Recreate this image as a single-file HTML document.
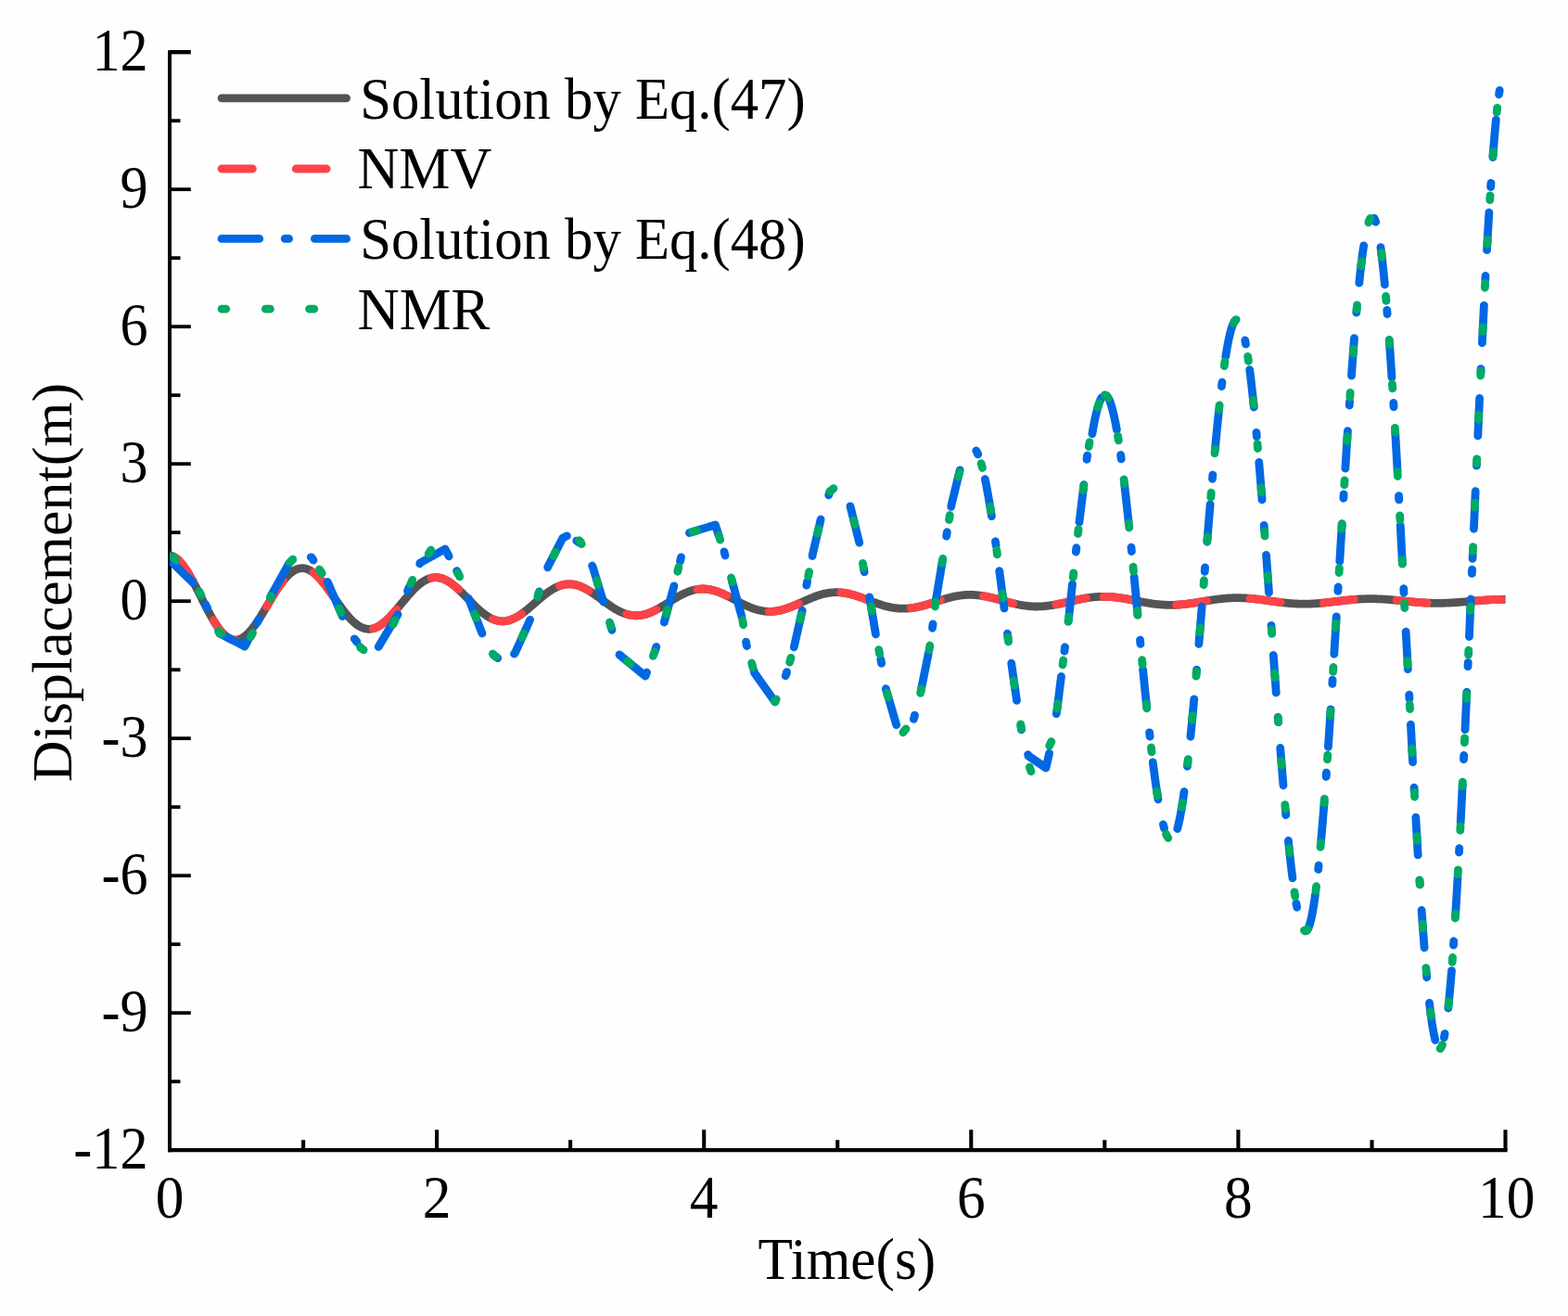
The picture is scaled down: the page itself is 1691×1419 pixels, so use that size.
<!DOCTYPE html>
<html><head><meta charset="utf-8"><style>html,body{margin:0;padding:0;background:#fefefe;overflow:hidden}svg{display:block}</style></head>
<body>
<svg width="1691" height="1419" viewBox="0 0 1691 1419">
<rect width="100%" height="100%" fill="#fefefe"/>
<g stroke="#000" fill="none" stroke-linecap="butt">
<path d="M183.0,54.2 V1242.3" stroke-width="3.9"/>
<path d="M181.1,1240.2 H1625.6" stroke-width="4.2"/>
<path d="M183.0,56.2 h22.8" stroke-width="4.4"/>
<path d="M183.0,1166.2 h11.5" stroke-width="3.8"/>
<path d="M183.0,1092.2 h22.8" stroke-width="3.8"/>
<path d="M183.0,1018.2 h11.5" stroke-width="3.8"/>
<path d="M183.0,944.2 h22.8" stroke-width="3.8"/>
<path d="M183.0,870.2 h11.5" stroke-width="3.8"/>
<path d="M183.0,796.2 h22.8" stroke-width="3.8"/>
<path d="M183.0,722.2 h11.5" stroke-width="3.8"/>
<path d="M183.0,648.2 h22.8" stroke-width="3.8"/>
<path d="M183.0,574.2 h11.5" stroke-width="3.8"/>
<path d="M183.0,500.2 h22.8" stroke-width="3.8"/>
<path d="M183.0,426.2 h11.5" stroke-width="3.8"/>
<path d="M183.0,352.2 h22.8" stroke-width="3.8"/>
<path d="M183.0,278.2 h11.5" stroke-width="3.8"/>
<path d="M183.0,204.2 h22.8" stroke-width="3.8"/>
<path d="M183.0,130.2 h11.5" stroke-width="3.8"/>
<path d="M327.1,1240.2 v-11" stroke-width="4.1"/>
<path d="M471.1,1240.2 v-22" stroke-width="4.1"/>
<path d="M615.1,1240.2 v-11" stroke-width="4.1"/>
<path d="M759.2,1240.2 v-22" stroke-width="4.1"/>
<path d="M903.2,1240.2 v-11" stroke-width="4.1"/>
<path d="M1047.3,1240.2 v-22" stroke-width="4.1"/>
<path d="M1191.3,1240.2 v-11" stroke-width="4.1"/>
<path d="M1335.4,1240.2 v-22" stroke-width="4.1"/>
<path d="M1479.5,1240.2 v-11" stroke-width="4.1"/>
<path d="M1623.5,1240.2 v-22" stroke-width="4.1"/>
</g>
<defs><clipPath id="pc"><rect x="183" y="40" width="1440.5" height="1205"/></clipPath></defs>
<g fill="none" stroke-linecap="round" stroke-linejoin="round" stroke-width="8.8" clip-path="url(#pc)">
<path d="M183.0,598.9 L183.7,599.0 L184.4,599.1 L185.2,599.3 L185.9,599.6 L186.6,599.9 L187.3,600.2 L188.0,600.6 L188.8,601.0 L189.5,601.5 L190.2,602.0 L190.9,602.6 L191.6,603.2 L192.4,603.9 L193.1,604.6 L193.8,605.3 L194.5,606.1 L195.2,606.9 L196.0,607.8 L196.7,608.7 L197.4,609.6 L198.1,610.5 L198.8,611.5 L199.6,612.6 L200.3,613.6 L201.0,614.7 L201.7,615.8 L202.4,617.0 L203.2,618.2 L203.9,619.4 L204.6,620.6 L205.3,621.9 L206.0,623.1 L206.8,624.4 L207.5,625.7 L208.2,627.1 L208.9,628.4 L209.6,629.8 L210.4,631.1 L211.1,632.5 L211.8,633.9 L212.5,635.3 L213.3,636.8 L214.0,638.2 L214.7,639.6 L215.4,641.0 L216.1,642.5 L216.9,643.9 L217.6,645.3 L218.3,646.8 L219.0,648.2 L219.7,649.6 L220.5,651.0 L221.2,652.5 L221.9,653.9 L222.6,655.2 L223.3,656.6 L224.1,658.0 L224.8,659.3 L225.5,660.7 L226.2,662.0 L226.9,663.3 L227.7,664.6 L228.4,665.9 L229.1,667.1 L229.8,668.3 L230.5,669.5 L231.3,670.7 L232.0,671.8 L232.7,672.9 L233.4,674.0 L234.1,675.1 L234.9,676.1 L235.6,677.1 L236.3,678.1 L237.0,679.0 L237.7,679.9 L238.5,680.8 L239.2,681.6 L239.9,682.4 L240.6,683.2 L241.3,683.9 L242.1,684.6 L242.8,685.2 L243.5,685.8 L244.2,686.4 L244.9,686.9 L245.7,687.4 L246.4,687.9 L247.1,688.3 L247.8,688.6 L248.5,689.0 L249.3,689.3 L250.0,689.5 L250.7,689.7 L251.4,689.9 L252.1,690.0 L252.9,690.1 L253.6,690.1 L254.3,690.1 L255.0,690.0 L255.7,689.9 L256.5,689.8 L257.2,689.6 L257.9,689.4 L258.6,689.2 L259.3,688.9 L260.1,688.6 L260.8,688.2 L261.5,687.8 L262.2,687.3 L262.9,686.8 L263.7,686.3 L264.4,685.8 L265.1,685.2 L265.8,684.6 L266.5,683.9 L267.3,683.2 L268.0,682.5 L268.7,681.7 L269.4,680.9 L270.2,680.1 L270.9,679.3 L271.6,678.4 L272.3,677.5 L273.0,676.6 L273.8,675.6 L274.5,674.7 L275.2,673.7 L275.9,672.6 L276.6,671.6 L277.4,670.5 L278.1,669.5 L278.8,668.4 L279.5,667.3 L280.2,666.1 L281.0,665.0 L281.7,663.8 L282.4,662.7 L283.1,661.5 L283.8,660.3 L284.6,659.1 L285.3,657.9 L286.0,656.7 L286.7,655.5 L287.4,654.3 L288.2,653.1 L288.9,651.8 L289.6,650.6 L290.3,649.4 L291.0,648.2 L291.8,647.0 L292.5,645.8 L293.2,644.6 L293.9,643.4 L294.6,642.2 L295.4,641.1 L296.1,639.9 L296.8,638.7 L297.5,637.6 L298.2,636.5 L299.0,635.4 L299.7,634.3 L300.4,633.2 L301.1,632.2 L301.8,631.1 L302.6,630.1 L303.3,629.1 L304.0,628.2 L304.7,627.2 L305.4,626.3 L306.2,625.4 L306.9,624.5 L307.6,623.7 L308.3,622.9 L309.0,622.1 L309.8,621.3 L310.5,620.6 L311.2,619.9 L311.9,619.2 L312.6,618.5 L313.4,617.9 L314.1,617.4 L314.8,616.8 L315.5,616.3 L316.2,615.8 L317.0,615.4 L317.7,614.9 L318.4,614.6 L319.1,614.2 L319.8,613.9 L320.6,613.6 L321.3,613.4 L322.0,613.2 L322.7,613.0 L323.4,612.9 L324.2,612.8 L324.9,612.7 L325.6,612.7 L326.3,612.7 L327.1,612.7 L327.8,612.8 L328.5,612.9 L329.2,613.1 L329.9,613.2 L330.7,613.5 L331.4,613.7 L332.1,614.0 L332.8,614.3 L333.5,614.6 L334.3,615.0 L335.0,615.4 L335.7,615.9 L336.4,616.3 L337.1,616.8 L337.9,617.4 L338.6,617.9 L339.3,618.5 L340.0,619.1 L340.7,619.8 L341.5,620.4 L342.2,621.1 L342.9,621.8 L343.6,622.6 L344.3,623.3 L345.1,624.1 L345.8,624.9 L346.5,625.8 L347.2,626.6 L347.9,627.5 L348.7,628.4 L349.4,629.3 L350.1,630.2 L350.8,631.1 L351.5,632.0 L352.3,633.0 L353.0,634.0 L353.7,634.9 L354.4,635.9 L355.1,636.9 L355.9,637.9 L356.6,639.0 L357.3,640.0 L358.0,641.0 L358.7,642.0 L359.5,643.0 L360.2,644.1 L360.9,645.1 L361.6,646.1 L362.3,647.2 L363.1,648.2 L363.8,649.2 L364.5,650.2 L365.2,651.3 L365.9,652.3 L366.7,653.3 L367.4,654.3 L368.1,655.2 L368.8,656.2 L369.5,657.2 L370.3,658.1 L371.0,659.1 L371.7,660.0 L372.4,660.9 L373.1,661.8 L373.9,662.7 L374.6,663.5 L375.3,664.4 L376.0,665.2 L376.7,666.0 L377.5,666.8 L378.2,667.5 L378.9,668.3 L379.6,669.0 L380.3,669.7 L381.1,670.4 L381.8,671.0 L382.5,671.6 L383.2,672.2 L383.9,672.8 L384.7,673.3 L385.4,673.9 L386.1,674.4 L386.8,674.8 L387.6,675.3 L388.3,675.7 L389.0,676.0 L389.7,676.4 L390.4,676.7 L391.2,677.0 L391.9,677.3 L392.6,677.5 L393.3,677.7 L394.0,677.9 L394.8,678.0 L395.5,678.1 L396.2,678.2 L396.9,678.3 L397.6,678.3 L398.4,678.3 L399.1,678.3 L399.8,678.2 L400.5,678.1 L401.2,678.0 L402.0,677.8 L402.7,677.7 L403.4,677.4 L404.1,677.2 L404.8,676.9 L405.6,676.7 L406.3,676.3 L407.0,676.0 L407.7,675.6 L408.4,675.2 L409.2,674.8 L409.9,674.3 L410.6,673.9 L411.3,673.4 L412.0,672.8 L412.8,672.3 L413.5,671.7 L414.2,671.2 L414.9,670.5 L415.6,669.9 L416.4,669.3 L417.1,668.6 L417.8,667.9 L418.5,667.2 L419.2,666.5 L420.0,665.8 L420.7,665.0 L421.4,664.3 L422.1,663.5 L422.8,662.7 L423.6,661.9 L424.3,661.1 L425.0,660.3 L425.7,659.4 L426.4,658.6 L427.2,657.8 L427.9,656.9 L428.6,656.0 L429.3,655.2 L430.0,654.3 L430.8,653.4 L431.5,652.6 L432.2,651.7 L432.9,650.8 L433.6,649.9 L434.4,649.1 L435.1,648.2 L435.8,647.3 L436.5,646.5 L437.2,645.6 L438.0,644.8 L438.7,643.9 L439.4,643.1 L440.1,642.2 L440.8,641.4 L441.6,640.6 L442.3,639.8 L443.0,639.0 L443.7,638.2 L444.5,637.4 L445.2,636.7 L445.9,635.9 L446.6,635.2 L447.3,634.5 L448.1,633.8 L448.8,633.1 L449.5,632.5 L450.2,631.8 L450.9,631.2 L451.7,630.6 L452.4,630.0 L453.1,629.4 L453.8,628.9 L454.5,628.3 L455.3,627.8 L456.0,627.3 L456.7,626.9 L457.4,626.4 L458.1,626.0 L458.9,625.6 L459.6,625.3 L460.3,624.9 L461.0,624.6 L461.7,624.3 L462.5,624.0 L463.2,623.8 L463.9,623.5 L464.6,623.3 L465.3,623.2 L466.1,623.0 L466.8,622.9 L467.5,622.8 L468.2,622.7 L468.9,622.7 L469.7,622.7 L470.4,622.7 L471.1,622.7 L471.8,622.8 L472.5,622.8 L473.3,622.9 L474.0,623.1 L474.7,623.2 L475.4,623.4 L476.1,623.6 L476.9,623.8 L477.6,624.1 L478.3,624.3 L479.0,624.6 L479.7,625.0 L480.5,625.3 L481.2,625.7 L481.9,626.0 L482.6,626.4 L483.3,626.9 L484.1,627.3 L484.8,627.8 L485.5,628.2 L486.2,628.7 L486.9,629.3 L487.7,629.8 L488.4,630.3 L489.1,630.9 L489.8,631.5 L490.5,632.1 L491.3,632.7 L492.0,633.3 L492.7,633.9 L493.4,634.6 L494.1,635.2 L494.9,635.9 L495.6,636.6 L496.3,637.3 L497.0,638.0 L497.7,638.7 L498.5,639.4 L499.2,640.1 L499.9,640.8 L500.6,641.6 L501.4,642.3 L502.1,643.0 L502.8,643.8 L503.5,644.5 L504.2,645.2 L505.0,646.0 L505.7,646.7 L506.4,647.5 L507.1,648.2 L507.8,648.9 L508.6,649.7 L509.3,650.4 L510.0,651.1 L510.7,651.8 L511.4,652.6 L512.2,653.3 L512.9,654.0 L513.6,654.7 L514.3,655.3 L515.0,656.0 L515.8,656.7 L516.5,657.3 L517.2,658.0 L517.9,658.6 L518.6,659.2 L519.4,659.8 L520.1,660.4 L520.8,661.0 L521.5,661.6 L522.2,662.1 L523.0,662.6 L523.7,663.1 L524.4,663.6 L525.1,664.1 L525.8,664.6 L526.6,665.0 L527.3,665.5 L528.0,665.9 L528.7,666.3 L529.4,666.7 L530.2,667.0 L530.9,667.3 L531.6,667.7 L532.3,667.9 L533.0,668.2 L533.8,668.5 L534.5,668.7 L535.2,668.9 L535.9,669.1 L536.6,669.3 L537.4,669.4 L538.1,669.5 L538.8,669.6 L539.5,669.7 L540.2,669.8 L541.0,669.8 L541.7,669.8 L542.4,669.8 L543.1,669.8 L543.8,669.8 L544.6,669.7 L545.3,669.6 L546.0,669.5 L546.7,669.4 L547.4,669.2 L548.2,669.1 L548.9,668.9 L549.6,668.7 L550.3,668.4 L551.0,668.2 L551.8,667.9 L552.5,667.6 L553.2,667.3 L553.9,667.0 L554.6,666.7 L555.4,666.3 L556.1,665.9 L556.8,665.5 L557.5,665.1 L558.3,664.7 L559.0,664.3 L559.7,663.8 L560.4,663.3 L561.1,662.9 L561.9,662.4 L562.6,661.9 L563.3,661.4 L564.0,660.8 L564.7,660.3 L565.5,659.7 L566.2,659.2 L566.9,658.6 L567.6,658.0 L568.3,657.5 L569.1,656.9 L569.8,656.3 L570.5,655.7 L571.2,655.1 L571.9,654.5 L572.7,653.8 L573.4,653.2 L574.1,652.6 L574.8,652.0 L575.5,651.3 L576.3,650.7 L577.0,650.1 L577.7,649.5 L578.4,648.8 L579.1,648.2 L579.9,647.6 L580.6,647.0 L581.3,646.3 L582.0,645.7 L582.7,645.1 L583.5,644.5 L584.2,643.9 L584.9,643.3 L585.6,642.7 L586.3,642.1 L587.1,641.6 L587.8,641.0 L588.5,640.5 L589.2,639.9 L589.9,639.4 L590.7,638.9 L591.4,638.3 L592.1,637.8 L592.8,637.4 L593.5,636.9 L594.3,636.4 L595.0,636.0 L595.7,635.5 L596.4,635.1 L597.1,634.7 L597.9,634.3 L598.6,633.9 L599.3,633.6 L600.0,633.2 L600.7,632.9 L601.5,632.6 L602.2,632.3 L602.9,632.0 L603.6,631.7 L604.3,631.5 L605.1,631.2 L605.8,631.0 L606.5,630.8 L607.2,630.6 L607.9,630.5 L608.7,630.3 L609.4,630.2 L610.1,630.1 L610.8,630.0 L611.5,629.9 L612.3,629.9 L613.0,629.9 L613.7,629.8 L614.4,629.8 L615.1,629.9 L615.9,629.9 L616.6,630.0 L617.3,630.0 L618.0,630.1 L618.8,630.2 L619.5,630.4 L620.2,630.5 L620.9,630.7 L621.6,630.9 L622.4,631.1 L623.1,631.3 L623.8,631.5 L624.5,631.7 L625.2,632.0 L626.0,632.3 L626.7,632.6 L627.4,632.9 L628.1,633.2 L628.8,633.5 L629.6,633.9 L630.3,634.2 L631.0,634.6 L631.7,635.0 L632.4,635.4 L633.2,635.8 L633.9,636.2 L634.6,636.6 L635.3,637.0 L636.0,637.5 L636.8,637.9 L637.5,638.4 L638.2,638.9 L638.9,639.4 L639.6,639.9 L640.4,640.3 L641.1,640.8 L641.8,641.4 L642.5,641.9 L643.2,642.4 L644.0,642.9 L644.7,643.4 L645.4,643.9 L646.1,644.5 L646.8,645.0 L647.6,645.5 L648.3,646.1 L649.0,646.6 L649.7,647.1 L650.4,647.7 L651.2,648.2 L651.9,648.7 L652.6,649.3 L653.3,649.8 L654.0,650.3 L654.8,650.8 L655.5,651.3 L656.2,651.8 L656.9,652.3 L657.6,652.8 L658.4,653.3 L659.1,653.8 L659.8,654.3 L660.5,654.8 L661.2,655.2 L662.0,655.7 L662.7,656.1 L663.4,656.6 L664.1,657.0 L664.8,657.4 L665.6,657.8 L666.3,658.2 L667.0,658.6 L667.7,658.9 L668.4,659.3 L669.2,659.7 L669.9,660.0 L670.6,660.3 L671.3,660.6 L672.0,660.9 L672.8,661.2 L673.5,661.5 L674.2,661.7 L674.9,662.0 L675.7,662.2 L676.4,662.4 L677.1,662.6 L677.8,662.8 L678.5,662.9 L679.3,663.1 L680.0,663.2 L680.7,663.3 L681.4,663.5 L682.1,663.5 L682.9,663.6 L683.6,663.7 L684.3,663.7 L685.0,663.8 L685.7,663.8 L686.5,663.8 L687.2,663.7 L687.9,663.7 L688.6,663.7 L689.3,663.6 L690.1,663.5 L690.8,663.4 L691.5,663.3 L692.2,663.2 L692.9,663.1 L693.7,662.9 L694.4,662.7 L695.1,662.6 L695.8,662.4 L696.5,662.2 L697.3,661.9 L698.0,661.7 L698.7,661.5 L699.4,661.2 L700.1,660.9 L700.9,660.7 L701.6,660.4 L702.3,660.1 L703.0,659.7 L703.7,659.4 L704.5,659.1 L705.2,658.7 L705.9,658.4 L706.6,658.0 L707.3,657.7 L708.1,657.3 L708.8,656.9 L709.5,656.5 L710.2,656.1 L710.9,655.7 L711.7,655.3 L712.4,654.9 L713.1,654.4 L713.8,654.0 L714.5,653.6 L715.3,653.1 L716.0,652.7 L716.7,652.3 L717.4,651.8 L718.1,651.4 L718.9,650.9 L719.6,650.5 L720.3,650.0 L721.0,649.6 L721.7,649.1 L722.5,648.7 L723.2,648.2 L723.9,647.8 L724.6,647.3 L725.3,646.9 L726.1,646.4 L726.8,646.0 L727.5,645.5 L728.2,645.1 L728.9,644.7 L729.7,644.3 L730.4,643.8 L731.1,643.4 L731.8,643.0 L732.6,642.6 L733.3,642.2 L734.0,641.9 L734.7,641.5 L735.4,641.1 L736.2,640.8 L736.9,640.4 L737.6,640.1 L738.3,639.7 L739.0,639.4 L739.8,639.1 L740.5,638.8 L741.2,638.5 L741.9,638.2 L742.6,637.9 L743.4,637.7 L744.1,637.4 L744.8,637.2 L745.5,637.0 L746.2,636.7 L747.0,636.5 L747.7,636.3 L748.4,636.2 L749.1,636.0 L749.8,635.8 L750.6,635.7 L751.3,635.6 L752.0,635.5 L752.7,635.4 L753.4,635.3 L754.2,635.2 L754.9,635.1 L755.6,635.1 L756.3,635.0 L757.0,635.0 L757.8,635.0 L758.5,635.0 L759.2,635.0 L759.9,635.0 L760.6,635.1 L761.4,635.1 L762.1,635.2 L762.8,635.3 L763.5,635.4 L764.2,635.5 L765.0,635.6 L765.7,635.7 L766.4,635.9 L767.1,636.0 L767.8,636.2 L768.6,636.4 L769.3,636.5 L770.0,636.7 L770.7,637.0 L771.4,637.2 L772.2,637.4 L772.9,637.6 L773.6,637.9 L774.3,638.1 L775.0,638.4 L775.8,638.7 L776.5,639.0 L777.2,639.3 L777.9,639.6 L778.6,639.9 L779.4,640.2 L780.1,640.5 L780.8,640.8 L781.5,641.2 L782.2,641.5 L783.0,641.8 L783.7,642.2 L784.4,642.6 L785.1,642.9 L785.8,643.3 L786.6,643.6 L787.3,644.0 L788.0,644.4 L788.7,644.8 L789.5,645.1 L790.2,645.5 L790.9,645.9 L791.6,646.3 L792.3,646.7 L793.1,647.1 L793.8,647.4 L794.5,647.8 L795.2,648.2 L795.9,648.6 L796.7,649.0 L797.4,649.3 L798.1,649.7 L798.8,650.1 L799.5,650.5 L800.3,650.8 L801.0,651.2 L801.7,651.5 L802.4,651.9 L803.1,652.2 L803.9,652.6 L804.6,652.9 L805.3,653.2 L806.0,653.6 L806.7,653.9 L807.5,654.2 L808.2,654.5 L808.9,654.8 L809.6,655.1 L810.3,655.4 L811.1,655.7 L811.8,655.9 L812.5,656.2 L813.2,656.4 L813.9,656.7 L814.7,656.9 L815.4,657.1 L816.1,657.3 L816.8,657.5 L817.5,657.7 L818.3,657.9 L819.0,658.1 L819.7,658.3 L820.4,658.4 L821.1,658.5 L821.9,658.7 L822.6,658.8 L823.3,658.9 L824.0,659.0 L824.7,659.1 L825.5,659.2 L826.2,659.2 L826.9,659.3 L827.6,659.3 L828.3,659.4 L829.1,659.4 L829.8,659.4 L830.5,659.4 L831.2,659.4 L831.9,659.4 L832.7,659.3 L833.4,659.3 L834.1,659.2 L834.8,659.1 L835.5,659.1 L836.3,659.0 L837.0,658.9 L837.7,658.8 L838.4,658.7 L839.1,658.5 L839.9,658.4 L840.6,658.2 L841.3,658.1 L842.0,657.9 L842.7,657.7 L843.5,657.6 L844.2,657.4 L844.9,657.2 L845.6,656.9 L846.4,656.7 L847.1,656.5 L847.8,656.3 L848.5,656.0 L849.2,655.8 L850.0,655.5 L850.7,655.3 L851.4,655.0 L852.1,654.7 L852.8,654.5 L853.6,654.2 L854.3,653.9 L855.0,653.6 L855.7,653.3 L856.4,653.0 L857.2,652.7 L857.9,652.4 L858.6,652.1 L859.3,651.7 L860.0,651.4 L860.8,651.1 L861.5,650.8 L862.2,650.5 L862.9,650.1 L863.6,649.8 L864.4,649.5 L865.1,649.2 L865.8,648.8 L866.5,648.5 L867.2,648.2 L868.0,647.9 L868.7,647.6 L869.4,647.2 L870.1,646.9 L870.8,646.6 L871.6,646.3 L872.3,646.0 L873.0,645.7 L873.7,645.4 L874.4,645.1 L875.2,644.8 L875.9,644.5 L876.6,644.2 L877.3,643.9 L878.0,643.6 L878.8,643.4 L879.5,643.1 L880.2,642.8 L880.9,642.6 L881.6,642.3 L882.4,642.1 L883.1,641.9 L883.8,641.6 L884.5,641.4 L885.2,641.2 L886.0,641.0 L886.7,640.8 L887.4,640.6 L888.1,640.4 L888.8,640.3 L889.6,640.1 L890.3,640.0 L891.0,639.8 L891.7,639.7 L892.4,639.5 L893.2,639.4 L893.9,639.3 L894.6,639.2 L895.3,639.1 L896.0,639.0 L896.8,639.0 L897.5,638.9 L898.2,638.8 L898.9,638.8 L899.6,638.8 L900.4,638.7 L901.1,638.7 L901.8,638.7 L902.5,638.7 L903.2,638.7 L904.0,638.7 L904.7,638.8 L905.4,638.8 L906.1,638.9 L906.9,638.9 L907.6,639.0 L908.3,639.1 L909.0,639.1 L909.7,639.2 L910.5,639.3 L911.2,639.4 L911.9,639.6 L912.6,639.7 L913.3,639.8 L914.1,640.0 L914.8,640.1 L915.5,640.3 L916.2,640.4 L916.9,640.6 L917.7,640.8 L918.4,641.0 L919.1,641.2 L919.8,641.4 L920.5,641.6 L921.3,641.8 L922.0,642.0 L922.7,642.2 L923.4,642.4 L924.1,642.7 L924.9,642.9 L925.6,643.1 L926.3,643.4 L927.0,643.6 L927.7,643.9 L928.5,644.1 L929.2,644.4 L929.9,644.7 L930.6,644.9 L931.3,645.2 L932.1,645.5 L932.8,645.7 L933.5,646.0 L934.2,646.3 L934.9,646.5 L935.7,646.8 L936.4,647.1 L937.1,647.4 L937.8,647.7 L938.5,647.9 L939.3,648.2 L940.0,648.5 L940.7,648.7 L941.4,649.0 L942.1,649.3 L942.9,649.6 L943.6,649.8 L944.3,650.1 L945.0,650.3 L945.7,650.6 L946.5,650.9 L947.2,651.1 L947.9,651.3 L948.6,651.6 L949.3,651.8 L950.1,652.1 L950.8,652.3 L951.5,652.5 L952.2,652.7 L952.9,653.0 L953.7,653.2 L954.4,653.4 L955.1,653.6 L955.8,653.8 L956.5,653.9 L957.3,654.1 L958.0,654.3 L958.7,654.5 L959.4,654.6 L960.1,654.8 L960.9,654.9 L961.6,655.1 L962.3,655.2 L963.0,655.3 L963.8,655.4 L964.5,655.5 L965.2,655.6 L965.9,655.7 L966.6,655.8 L967.4,655.9 L968.1,656.0 L968.8,656.0 L969.5,656.1 L970.2,656.1 L971.0,656.2 L971.7,656.2 L972.4,656.2 L973.1,656.2 L973.8,656.2 L974.6,656.2 L975.3,656.2 L976.0,656.2 L976.7,656.2 L977.4,656.2 L978.2,656.1 L978.9,656.1 L979.6,656.0 L980.3,655.9 L981.0,655.9 L981.8,655.8 L982.5,655.7 L983.2,655.6 L983.9,655.5 L984.6,655.4 L985.4,655.3 L986.1,655.2 L986.8,655.1 L987.5,654.9 L988.2,654.8 L989.0,654.6 L989.7,654.5 L990.4,654.3 L991.1,654.2 L991.8,654.0 L992.6,653.8 L993.3,653.7 L994.0,653.5 L994.7,653.3 L995.4,653.1 L996.2,652.9 L996.9,652.7 L997.6,652.5 L998.3,652.3 L999.0,652.1 L999.8,651.9 L1000.5,651.6 L1001.2,651.4 L1001.9,651.2 L1002.6,651.0 L1003.4,650.8 L1004.1,650.5 L1004.8,650.3 L1005.5,650.1 L1006.2,649.8 L1007.0,649.6 L1007.7,649.4 L1008.4,649.1 L1009.1,648.9 L1009.8,648.7 L1010.6,648.4 L1011.3,648.2 L1012.0,648.0 L1012.7,647.7 L1013.4,647.5 L1014.2,647.3 L1014.9,647.1 L1015.6,646.8 L1016.3,646.6 L1017.0,646.4 L1017.8,646.2 L1018.5,646.0 L1019.2,645.7 L1019.9,645.5 L1020.7,645.3 L1021.4,645.1 L1022.1,644.9 L1022.8,644.7 L1023.5,644.5 L1024.3,644.4 L1025.0,644.2 L1025.7,644.0 L1026.4,643.8 L1027.1,643.7 L1027.9,643.5 L1028.6,643.3 L1029.3,643.2 L1030.0,643.0 L1030.7,642.9 L1031.5,642.8 L1032.2,642.6 L1032.9,642.5 L1033.6,642.4 L1034.3,642.3 L1035.1,642.2 L1035.8,642.1 L1036.5,642.0 L1037.2,641.9 L1037.9,641.8 L1038.7,641.7 L1039.4,641.7 L1040.1,641.6 L1040.8,641.6 L1041.5,641.5 L1042.3,641.5 L1043.0,641.4 L1043.7,641.4 L1044.4,641.4 L1045.1,641.4 L1045.9,641.4 L1046.6,641.4 L1047.3,641.4 L1048.0,641.4 L1048.7,641.4 L1049.5,641.5 L1050.2,641.5 L1050.9,641.5 L1051.6,641.6 L1052.3,641.6 L1053.1,641.7 L1053.8,641.8 L1054.5,641.8 L1055.2,641.9 L1055.9,642.0 L1056.7,642.1 L1057.4,642.2 L1058.1,642.3 L1058.8,642.4 L1059.5,642.5 L1060.3,642.6 L1061.0,642.7 L1061.7,642.9 L1062.4,643.0 L1063.1,643.1 L1063.9,643.3 L1064.6,643.4 L1065.3,643.6 L1066.0,643.7 L1066.7,643.9 L1067.5,644.1 L1068.2,644.2 L1068.9,644.4 L1069.6,644.6 L1070.3,644.7 L1071.1,644.9 L1071.8,645.1 L1072.5,645.3 L1073.2,645.5 L1073.9,645.7 L1074.7,645.8 L1075.4,646.0 L1076.1,646.2 L1076.8,646.4 L1077.6,646.6 L1078.3,646.8 L1079.0,647.0 L1079.7,647.2 L1080.4,647.4 L1081.2,647.6 L1081.9,647.8 L1082.6,648.0 L1083.3,648.2 L1084.0,648.4 L1084.8,648.6 L1085.5,648.8 L1086.2,649.0 L1086.9,649.2 L1087.6,649.4 L1088.4,649.6 L1089.1,649.7 L1089.8,649.9 L1090.5,650.1 L1091.2,650.3 L1092.0,650.5 L1092.7,650.6 L1093.4,650.8 L1094.1,651.0 L1094.8,651.1 L1095.6,651.3 L1096.3,651.5 L1097.0,651.6 L1097.7,651.8 L1098.4,651.9 L1099.2,652.1 L1099.9,652.2 L1100.6,652.3 L1101.3,652.5 L1102.0,652.6 L1102.8,652.7 L1103.5,652.8 L1104.2,652.9 L1104.9,653.0 L1105.6,653.1 L1106.4,653.2 L1107.1,653.3 L1107.8,653.4 L1108.5,653.5 L1109.2,653.5 L1110.0,653.6 L1110.7,653.7 L1111.4,653.7 L1112.1,653.8 L1112.8,653.8 L1113.6,653.9 L1114.3,653.9 L1115.0,653.9 L1115.7,654.0 L1116.4,654.0 L1117.2,654.0 L1117.9,654.0 L1118.6,654.0 L1119.3,654.0 L1120.0,654.0 L1120.8,653.9 L1121.5,653.9 L1122.2,653.9 L1122.9,653.9 L1123.6,653.8 L1124.4,653.8 L1125.1,653.7 L1125.8,653.7 L1126.5,653.6 L1127.2,653.5 L1128.0,653.5 L1128.7,653.4 L1129.4,653.3 L1130.1,653.2 L1130.8,653.1 L1131.6,653.0 L1132.3,652.9 L1133.0,652.8 L1133.7,652.7 L1134.5,652.6 L1135.2,652.5 L1135.9,652.4 L1136.6,652.2 L1137.3,652.1 L1138.1,652.0 L1138.8,651.9 L1139.5,651.7 L1140.2,651.6 L1140.9,651.4 L1141.7,651.3 L1142.4,651.1 L1143.1,651.0 L1143.8,650.8 L1144.5,650.7 L1145.3,650.5 L1146.0,650.4 L1146.7,650.2 L1147.4,650.0 L1148.1,649.9 L1148.9,649.7 L1149.6,649.5 L1150.3,649.4 L1151.0,649.2 L1151.7,649.0 L1152.5,648.9 L1153.2,648.7 L1153.9,648.5 L1154.6,648.4 L1155.3,648.2 L1156.1,648.0 L1156.8,647.9 L1157.5,647.7 L1158.2,647.5 L1158.9,647.4 L1159.7,647.2 L1160.4,647.1 L1161.1,646.9 L1161.8,646.7 L1162.5,646.6 L1163.3,646.4 L1164.0,646.3 L1164.7,646.1 L1165.4,646.0 L1166.1,645.8 L1166.9,645.7 L1167.6,645.6 L1168.3,645.4 L1169.0,645.3 L1169.7,645.2 L1170.5,645.1 L1171.2,644.9 L1171.9,644.8 L1172.6,644.7 L1173.3,644.6 L1174.1,644.5 L1174.8,644.4 L1175.5,644.3 L1176.2,644.2 L1176.9,644.1 L1177.7,644.0 L1178.4,643.9 L1179.1,643.9 L1179.8,643.8 L1180.5,643.7 L1181.3,643.7 L1182.0,643.6 L1182.7,643.6 L1183.4,643.5 L1184.1,643.5 L1184.9,643.4 L1185.6,643.4 L1186.3,643.4 L1187.0,643.3 L1187.7,643.3 L1188.5,643.3 L1189.2,643.3 L1189.9,643.3 L1190.6,643.3 L1191.3,643.3 L1192.1,643.3 L1192.8,643.3 L1193.5,643.3 L1194.2,643.4 L1195.0,643.4 L1195.7,643.4 L1196.4,643.5 L1197.1,643.5 L1197.8,643.6 L1198.6,643.6 L1199.3,643.7 L1200.0,643.7 L1200.7,643.8 L1201.4,643.9 L1202.2,643.9 L1202.9,644.0 L1203.6,644.1 L1204.3,644.2 L1205.0,644.3 L1205.8,644.4 L1206.5,644.5 L1207.2,644.6 L1207.9,644.7 L1208.6,644.8 L1209.4,644.9 L1210.1,645.0 L1210.8,645.1 L1211.5,645.2 L1212.2,645.3 L1213.0,645.5 L1213.7,645.6 L1214.4,645.7 L1215.1,645.8 L1215.8,646.0 L1216.6,646.1 L1217.3,646.2 L1218.0,646.4 L1218.7,646.5 L1219.4,646.6 L1220.2,646.8 L1220.9,646.9 L1221.6,647.1 L1222.3,647.2 L1223.0,647.3 L1223.8,647.5 L1224.5,647.6 L1225.2,647.8 L1225.9,647.9 L1226.6,648.1 L1227.4,648.2 L1228.1,648.3 L1228.8,648.5 L1229.5,648.6 L1230.2,648.8 L1231.0,648.9 L1231.7,649.0 L1232.4,649.2 L1233.1,649.3 L1233.8,649.4 L1234.6,649.6 L1235.3,649.7 L1236.0,649.8 L1236.7,650.0 L1237.4,650.1 L1238.2,650.2 L1238.9,650.3 L1239.6,650.4 L1240.3,650.5 L1241.0,650.7 L1241.8,650.8 L1242.5,650.9 L1243.2,651.0 L1243.9,651.1 L1244.6,651.2 L1245.4,651.3 L1246.1,651.3 L1246.8,651.4 L1247.5,651.5 L1248.2,651.6 L1249.0,651.7 L1249.7,651.7 L1250.4,651.8 L1251.1,651.9 L1251.9,651.9 L1252.6,652.0 L1253.3,652.0 L1254.0,652.1 L1254.7,652.1 L1255.5,652.2 L1256.2,652.2 L1256.9,652.2 L1257.6,652.3 L1258.3,652.3 L1259.1,652.3 L1259.8,652.3 L1260.5,652.3 L1261.2,652.4 L1261.9,652.4 L1262.7,652.4 L1263.4,652.4 L1264.1,652.3 L1264.8,652.3 L1265.5,652.3 L1266.3,652.3 L1267.0,652.3 L1267.7,652.2 L1268.4,652.2 L1269.1,652.2 L1269.9,652.1 L1270.6,652.1 L1271.3,652.0 L1272.0,652.0 L1272.7,651.9 L1273.5,651.9 L1274.2,651.8 L1274.9,651.7 L1275.6,651.7 L1276.3,651.6 L1277.1,651.5 L1277.8,651.5 L1278.5,651.4 L1279.2,651.3 L1279.9,651.2 L1280.7,651.1 L1281.4,651.0 L1282.1,650.9 L1282.8,650.8 L1283.5,650.7 L1284.3,650.6 L1285.0,650.5 L1285.7,650.4 L1286.4,650.3 L1287.1,650.2 L1287.9,650.1 L1288.6,650.0 L1289.3,649.9 L1290.0,649.8 L1290.7,649.6 L1291.5,649.5 L1292.2,649.4 L1292.9,649.3 L1293.6,649.2 L1294.3,649.0 L1295.1,648.9 L1295.8,648.8 L1296.5,648.7 L1297.2,648.6 L1297.9,648.4 L1298.7,648.3 L1299.4,648.2 L1300.1,648.1 L1300.8,648.0 L1301.5,647.8 L1302.3,647.7 L1303.0,647.6 L1303.7,647.5 L1304.4,647.4 L1305.1,647.3 L1305.9,647.1 L1306.6,647.0 L1307.3,646.9 L1308.0,646.8 L1308.8,646.7 L1309.5,646.6 L1310.2,646.5 L1310.9,646.4 L1311.6,646.3 L1312.4,646.2 L1313.1,646.1 L1313.8,646.0 L1314.5,645.9 L1315.2,645.8 L1316.0,645.8 L1316.7,645.7 L1317.4,645.6 L1318.1,645.5 L1318.8,645.5 L1319.6,645.4 L1320.3,645.3 L1321.0,645.3 L1321.7,645.2 L1322.4,645.1 L1323.2,645.1 L1323.9,645.0 L1324.6,645.0 L1325.3,644.9 L1326.0,644.9 L1326.8,644.9 L1327.5,644.8 L1328.2,644.8 L1328.9,644.8 L1329.6,644.7 L1330.4,644.7 L1331.1,644.7 L1331.8,644.7 L1332.5,644.7 L1333.2,644.7 L1334.0,644.7 L1334.7,644.7 L1335.4,644.7 L1336.1,644.7 L1336.8,644.7 L1337.6,644.7 L1338.3,644.7 L1339.0,644.8 L1339.7,644.8 L1340.4,644.8 L1341.2,644.8 L1341.9,644.9 L1342.6,644.9 L1343.3,644.9 L1344.0,645.0 L1344.8,645.0 L1345.5,645.1 L1346.2,645.1 L1346.9,645.2 L1347.6,645.3 L1348.4,645.3 L1349.1,645.4 L1349.8,645.4 L1350.5,645.5 L1351.2,645.6 L1352.0,645.7 L1352.7,645.7 L1353.4,645.8 L1354.1,645.9 L1354.8,646.0 L1355.6,646.1 L1356.3,646.1 L1357.0,646.2 L1357.7,646.3 L1358.4,646.4 L1359.2,646.5 L1359.9,646.6 L1360.6,646.7 L1361.3,646.8 L1362.0,646.9 L1362.8,647.0 L1363.5,647.1 L1364.2,647.2 L1364.9,647.3 L1365.7,647.4 L1366.4,647.5 L1367.1,647.6 L1367.8,647.7 L1368.5,647.8 L1369.3,647.9 L1370.0,648.0 L1370.7,648.1 L1371.4,648.2 L1372.1,648.3 L1372.9,648.4 L1373.6,648.5 L1374.3,648.6 L1375.0,648.7 L1375.7,648.8 L1376.5,648.9 L1377.2,649.0 L1377.9,649.1 L1378.6,649.2 L1379.3,649.3 L1380.1,649.4 L1380.8,649.5 L1381.5,649.5 L1382.2,649.6 L1382.9,649.7 L1383.7,649.8 L1384.4,649.9 L1385.1,650.0 L1385.8,650.0 L1386.5,650.1 L1387.3,650.2 L1388.0,650.3 L1388.7,650.3 L1389.4,650.4 L1390.1,650.5 L1390.9,650.5 L1391.6,650.6 L1392.3,650.6 L1393.0,650.7 L1393.7,650.7 L1394.5,650.8 L1395.2,650.8 L1395.9,650.9 L1396.6,650.9 L1397.3,651.0 L1398.1,651.0 L1398.8,651.0 L1399.5,651.1 L1400.2,651.1 L1400.9,651.1 L1401.7,651.1 L1402.4,651.1 L1403.1,651.2 L1403.8,651.2 L1404.5,651.2 L1405.3,651.2 L1406.0,651.2 L1406.7,651.2 L1407.4,651.2 L1408.1,651.2 L1408.9,651.2 L1409.6,651.2 L1410.3,651.1 L1411.0,651.1 L1411.7,651.1 L1412.5,651.1 L1413.2,651.1 L1413.9,651.0 L1414.6,651.0 L1415.3,651.0 L1416.1,650.9 L1416.8,650.9 L1417.5,650.8 L1418.2,650.8 L1418.9,650.7 L1419.7,650.7 L1420.4,650.6 L1421.1,650.6 L1421.8,650.5 L1422.6,650.5 L1423.3,650.4 L1424.0,650.4 L1424.7,650.3 L1425.4,650.2 L1426.2,650.2 L1426.9,650.1 L1427.6,650.0 L1428.3,649.9 L1429.0,649.9 L1429.8,649.8 L1430.5,649.7 L1431.2,649.6 L1431.9,649.6 L1432.6,649.5 L1433.4,649.4 L1434.1,649.3 L1434.8,649.2 L1435.5,649.1 L1436.2,649.1 L1437.0,649.0 L1437.7,648.9 L1438.4,648.8 L1439.1,648.7 L1439.8,648.6 L1440.6,648.5 L1441.3,648.5 L1442.0,648.4 L1442.7,648.3 L1443.4,648.2 L1444.2,648.1 L1444.9,648.0 L1445.6,647.9 L1446.3,647.9 L1447.0,647.8 L1447.8,647.7 L1448.5,647.6 L1449.2,647.5 L1449.9,647.4 L1450.6,647.4 L1451.4,647.3 L1452.1,647.2 L1452.8,647.1 L1453.5,647.1 L1454.2,647.0 L1455.0,646.9 L1455.7,646.8 L1456.4,646.8 L1457.1,646.7 L1457.8,646.6 L1458.6,646.6 L1459.3,646.5 L1460.0,646.4 L1460.7,646.4 L1461.4,646.3 L1462.2,646.3 L1462.9,646.2 L1463.6,646.2 L1464.3,646.1 L1465.0,646.1 L1465.8,646.0 L1466.5,646.0 L1467.2,646.0 L1467.9,645.9 L1468.6,645.9 L1469.4,645.9 L1470.1,645.8 L1470.8,645.8 L1471.5,645.8 L1472.2,645.8 L1473.0,645.7 L1473.7,645.7 L1474.4,645.7 L1475.1,645.7 L1475.8,645.7 L1476.6,645.7 L1477.3,645.7 L1478.0,645.7 L1478.7,645.7 L1479.5,645.7 L1480.2,645.7 L1480.9,645.7 L1481.6,645.7 L1482.3,645.7 L1483.1,645.7 L1483.8,645.7 L1484.5,645.8 L1485.2,645.8 L1485.9,645.8 L1486.7,645.8 L1487.4,645.9 L1488.1,645.9 L1488.8,645.9 L1489.5,646.0 L1490.3,646.0 L1491.0,646.0 L1491.7,646.1 L1492.4,646.1 L1493.1,646.2 L1493.9,646.2 L1494.6,646.3 L1495.3,646.3 L1496.0,646.4 L1496.7,646.4 L1497.5,646.5 L1498.2,646.5 L1498.9,646.6 L1499.6,646.7 L1500.3,646.7 L1501.1,646.8 L1501.8,646.8 L1502.5,646.9 L1503.2,647.0 L1503.9,647.0 L1504.7,647.1 L1505.4,647.2 L1506.1,647.3 L1506.8,647.3 L1507.5,647.4 L1508.3,647.5 L1509.0,647.5 L1509.7,647.6 L1510.4,647.7 L1511.1,647.8 L1511.9,647.8 L1512.6,647.9 L1513.3,648.0 L1514.0,648.1 L1514.7,648.1 L1515.5,648.2 L1516.2,648.3 L1516.9,648.3 L1517.6,648.4 L1518.3,648.5 L1519.1,648.6 L1519.8,648.6 L1520.5,648.7 L1521.2,648.8 L1521.9,648.8 L1522.7,648.9 L1523.4,649.0 L1524.1,649.0 L1524.8,649.1 L1525.5,649.2 L1526.3,649.2 L1527.0,649.3 L1527.7,649.4 L1528.4,649.4 L1529.1,649.5 L1529.9,649.5 L1530.6,649.6 L1531.3,649.6 L1532.0,649.7 L1532.7,649.7 L1533.5,649.8 L1534.2,649.8 L1534.9,649.9 L1535.6,649.9 L1536.3,650.0 L1537.1,650.0 L1537.8,650.0 L1538.5,650.1 L1539.2,650.1 L1540.0,650.1 L1540.7,650.2 L1541.4,650.2 L1542.1,650.2 L1542.8,650.2 L1543.6,650.3 L1544.3,650.3 L1545.0,650.3 L1545.7,650.3 L1546.4,650.3 L1547.2,650.3 L1547.9,650.3 L1548.6,650.3 L1549.3,650.3 L1550.0,650.3 L1550.8,650.3 L1551.5,650.3 L1552.2,650.3 L1552.9,650.3 L1553.6,650.3 L1554.4,650.3 L1555.1,650.3 L1555.8,650.3 L1556.5,650.3 L1557.2,650.3 L1558.0,650.2 L1558.7,650.2 L1559.4,650.2 L1560.1,650.2 L1560.8,650.1 L1561.6,650.1 L1562.3,650.1 L1563.0,650.0 L1563.7,650.0 L1564.4,650.0 L1565.2,649.9 L1565.9,649.9 L1566.6,649.8 L1567.3,649.8 L1568.0,649.7 L1568.8,649.7 L1569.5,649.7 L1570.2,649.6 L1570.9,649.6 L1571.6,649.5 L1572.4,649.5 L1573.1,649.4 L1573.8,649.3 L1574.5,649.3 L1575.2,649.2 L1576.0,649.2 L1576.7,649.1 L1577.4,649.1 L1578.1,649.0 L1578.8,648.9 L1579.6,648.9 L1580.3,648.8 L1581.0,648.8 L1581.7,648.7 L1582.4,648.6 L1583.2,648.6 L1583.9,648.5 L1584.6,648.4 L1585.3,648.4 L1586.0,648.3 L1586.8,648.3 L1587.5,648.2 L1588.2,648.1 L1588.9,648.1 L1589.6,648.0 L1590.4,648.0 L1591.1,647.9 L1591.8,647.8 L1592.5,647.8 L1593.2,647.7 L1594.0,647.7 L1594.7,647.6 L1595.4,647.5 L1596.1,647.5 L1596.9,647.4 L1597.6,647.4 L1598.3,647.3 L1599.0,647.3 L1599.7,647.2 L1600.5,647.2 L1601.2,647.1 L1601.9,647.1 L1602.6,647.0 L1603.3,647.0 L1604.1,646.9 L1604.8,646.9 L1605.5,646.9 L1606.2,646.8 L1606.9,646.8 L1607.7,646.7 L1608.4,646.7 L1609.1,646.7 L1609.8,646.6 L1610.5,646.6 L1611.3,646.6 L1612.0,646.6 L1612.7,646.5 L1613.4,646.5 L1614.1,646.5 L1614.9,646.5 L1615.6,646.5 L1616.3,646.4 L1617.0,646.4 L1617.7,646.4 L1618.5,646.4 L1619.2,646.4 L1619.9,646.4 L1620.6,646.4 L1621.3,646.4 L1622.1,646.4 L1622.8,646.4 L1623.5,646.4" stroke="#545454"/>
<path d="M183.0,598.9 L184.4,599.1 L185.9,599.6 L187.3,600.2 L188.8,601.0 L190.2,602.0 L191.6,603.2 L193.1,604.6 L194.5,606.1 L196.0,607.8 L197.4,609.6 L198.8,611.5 L200.3,613.6 L201.7,615.8 L203.2,618.2 L204.6,620.6 L206.0,623.1 L207.5,625.7 L208.9,628.4 L210.4,631.1 L211.8,633.9 L213.3,636.8 L214.7,639.6 L216.1,642.5 L217.6,645.3 L219.0,648.2 L220.5,651.0 L221.9,653.9 L223.3,656.6 L224.8,659.3 L226.2,662.0 L227.7,664.6 L229.1,667.1 L230.5,669.5 L232.0,671.8 L233.4,674.0 L234.9,676.1 L236.3,678.1 L237.7,679.9 L239.2,681.6 L240.6,683.2 L242.1,684.6 L243.5,685.8 L244.9,686.9 L246.4,687.9 L247.8,688.6 L249.3,689.3 L250.7,689.7 L252.1,690.0 L253.6,690.1 L255.0,690.0 L256.5,689.8 L257.9,689.4 L259.3,688.9 L260.8,688.2 L262.2,687.3 L263.7,686.3 L265.1,685.2 L266.5,683.9 L268.0,682.5 L269.4,680.9 L270.9,679.3 L272.3,677.5" stroke="#fe4245" stroke-dasharray="33.4 46.8" stroke-dashoffset="74.3"/>
<path d="M272.3,677.5 L273.8,675.6 L275.2,673.7 L276.6,671.6 L278.1,669.5 L279.5,667.3 L281.0,665.0 L282.4,662.7 L283.8,660.3 L285.3,657.9 L286.7,655.5 L288.2,653.1 L289.6,650.6 L291.0,648.2 L292.5,645.8 L293.9,643.4 L295.4,641.1 L296.8,638.7 L298.2,636.5 L299.7,634.3 L301.1,632.2 L302.6,630.1 L304.0,628.2 L305.4,626.3 L306.9,624.5 L308.3,622.9 L309.8,621.3 L311.2,619.9 L312.6,618.5 L314.1,617.4 L315.5,616.3 L317.0,615.4 L318.4,614.6 L319.8,613.9 L321.3,613.4 L322.7,613.0 L324.2,612.8" stroke="#fe4245" stroke-dasharray="33.4 46.8" stroke-dashoffset="52.5"/>
<path d="M324.2,612.8 L325.6,612.7 L327.1,612.7 L328.5,612.9 L329.9,613.2 L331.4,613.7 L332.8,614.3 L334.3,615.0 L335.7,615.9 L337.1,616.8 L338.6,617.9 L340.0,619.1 L341.5,620.4 L342.9,621.8 L344.3,623.3 L345.8,624.9 L347.2,626.6 L348.7,628.4 L350.1,630.2 L351.5,632.0 L353.0,634.0 L354.4,635.9 L355.9,637.9 L357.3,640.0 L358.7,642.0 L360.2,644.1 L361.6,646.1 L363.1,648.2 L364.5,650.2 L365.9,652.3 L367.4,654.3 L368.8,656.2 L370.3,658.1 L371.7,660.0 L373.1,661.8 L374.6,663.5 L376.0,665.2 L377.5,666.8 L378.9,668.3 L380.3,669.7" stroke="#fe4245" stroke-dasharray="33.4 46.8" stroke-dashoffset="65.4"/>
<path d="M380.3,669.7 L381.8,671.0 L383.2,672.2 L384.7,673.3 L386.1,674.4 L387.6,675.3 L389.0,676.0 L390.4,676.7 L391.9,677.3 L393.3,677.7 L394.8,678.0 L396.2,678.2 L397.6,678.3 L399.1,678.3 L400.5,678.1 L402.0,677.8 L403.4,677.4 L404.8,676.9 L406.3,676.3 L407.7,675.6 L409.2,674.8 L410.6,673.9 L412.0,672.8 L413.5,671.7 L414.9,670.5 L416.4,669.3 L417.8,667.9 L419.2,666.5 L420.7,665.0 L422.1,663.5 L423.6,661.9 L425.0,660.3 L426.4,658.6 L427.9,656.9 L429.3,655.2 L430.8,653.4 L432.2,651.7 L433.6,649.9 L435.1,648.2 L436.5,646.5 L438.0,644.8 L439.4,643.1 L440.8,641.4 L442.3,639.8 L443.7,638.2 L445.2,636.7 L446.6,635.2 L448.1,633.8" stroke="#fe4245" stroke-dasharray="33.4 46.8" stroke-dashoffset="55.8"/>
<path d="M448.1,633.8 L449.5,632.5 L450.9,631.2 L452.4,630.0 L453.8,628.9 L455.3,627.8 L456.7,626.9 L458.1,626.0 L459.6,625.3 L461.0,624.6 L462.5,624.0 L463.9,623.5 L465.3,623.2 L466.8,622.9 L468.2,622.7 L469.7,622.7 L471.1,622.7 L472.5,622.8 L474.0,623.1 L475.4,623.4 L476.9,623.8 L478.3,624.3 L479.7,625.0 L481.2,625.7 L482.6,626.4 L484.1,627.3 L485.5,628.2 L486.9,629.3 L488.4,630.3 L489.8,631.5 L491.3,632.7 L492.7,633.9 L494.1,635.2 L495.6,636.6 L497.0,638.0 L498.5,639.4 L499.9,640.8 L501.4,642.3 L502.8,643.8 L504.2,645.2 L505.7,646.7 L507.1,648.2 L508.6,649.7 L510.0,651.1 L511.4,652.6 L512.9,654.0 L514.3,655.3" stroke="#fe4245" stroke-dasharray="33.4 46.8" stroke-dashoffset="59.9"/>
<path d="M514.3,655.3 L515.8,656.7 L517.2,658.0 L518.6,659.2 L520.1,660.4 L521.5,661.6 L523.0,662.6 L524.4,663.6 L525.8,664.6 L527.3,665.5 L528.7,666.3 L530.2,667.0 L531.6,667.7 L533.0,668.2 L534.5,668.7 L535.9,669.1 L537.4,669.4 L538.8,669.6 L540.2,669.8 L541.7,669.8 L543.1,669.8 L544.6,669.7 L546.0,669.5 L547.4,669.2 L548.9,668.9 L550.3,668.4 L551.8,667.9 L553.2,667.3 L554.6,666.7 L556.1,665.9 L557.5,665.1 L559.0,664.3 L560.4,663.3 L561.9,662.4 L563.3,661.4 L564.7,660.3 L566.2,659.2 L567.6,658.0 L569.1,656.9 L570.5,655.7 L571.9,654.5 L573.4,653.2 L574.8,652.0 L576.3,650.7 L577.7,649.5 L579.1,648.2 L580.6,647.0 L582.0,645.7 L583.5,644.5" stroke="#fe4245" stroke-dasharray="33.4 46.8" stroke-dashoffset="59.1"/>
<path d="M583.5,644.5 L584.9,643.3 L586.3,642.1 L587.8,641.0 L589.2,639.9 L590.7,638.9 L592.1,637.8 L593.5,636.9 L595.0,636.0 L596.4,635.1 L597.9,634.3 L599.3,633.6 L600.7,632.9 L602.2,632.3 L603.6,631.7 L605.1,631.2 L606.5,630.8 L607.9,630.5 L609.4,630.2 L610.8,630.0 L612.3,629.9 L613.7,629.8 L615.1,629.9 L616.6,630.0 L618.0,630.1 L619.5,630.4 L620.9,630.7 L622.4,631.1 L623.8,631.5 L625.2,632.0 L626.7,632.6 L628.1,633.2 L629.6,633.9 L631.0,634.6 L632.4,635.4 L633.9,636.2 L635.3,637.0 L636.8,637.9 L638.2,638.9 L639.6,639.9 L641.1,640.8 L642.5,641.9 L644.0,642.9 L645.4,643.9 L646.8,645.0 L648.3,646.1 L649.7,647.1 L651.2,648.2 L652.6,649.3 L654.0,650.3 L655.5,651.3" stroke="#fe4245" stroke-dasharray="33.4 46.8" stroke-dashoffset="56.3"/>
<path d="M655.5,651.3 L656.9,652.3 L658.4,653.3 L659.8,654.3 L661.2,655.2 L662.7,656.1 L664.1,657.0 L665.6,657.8 L667.0,658.6 L668.4,659.3 L669.9,660.0 L671.3,660.6 L672.8,661.2 L674.2,661.7 L675.7,662.2 L677.1,662.6 L678.5,662.9 L680.0,663.2 L681.4,663.5 L682.9,663.6 L684.3,663.7 L685.7,663.8 L687.2,663.7 L688.6,663.7 L690.1,663.5 L691.5,663.3 L692.9,663.1 L694.4,662.7 L695.8,662.4 L697.3,661.9 L698.7,661.5 L700.1,660.9 L701.6,660.4 L703.0,659.7 L704.5,659.1 L705.9,658.4 L707.3,657.7 L708.8,656.9 L710.2,656.1 L711.7,655.3 L713.1,654.4 L714.5,653.6 L716.0,652.7 L717.4,651.8 L718.9,650.9 L720.3,650.0 L721.7,649.1 L723.2,648.2 L724.6,647.3 L726.1,646.4 L727.5,645.5 L728.9,644.7 L730.4,643.8" stroke="#fe4245" stroke-dasharray="33.4 46.8" stroke-dashoffset="57.1"/>
<path d="M730.4,643.8 L731.8,643.0 L733.3,642.2 L734.7,641.5 L736.2,640.8 L737.6,640.1 L739.0,639.4 L740.5,638.8 L741.9,638.2 L743.4,637.7 L744.8,637.2 L746.2,636.7 L747.7,636.3 L749.1,636.0 L750.6,635.7 L752.0,635.5 L753.4,635.3 L754.9,635.1 L756.3,635.0 L757.8,635.0 L759.2,635.0 L760.6,635.1 L762.1,635.2 L763.5,635.4 L765.0,635.6 L766.4,635.9 L767.8,636.2 L769.3,636.5 L770.7,637.0 L772.2,637.4 L773.6,637.9 L775.0,638.4 L776.5,639.0 L777.9,639.6 L779.4,640.2 L780.8,640.8 L782.2,641.5 L783.7,642.2 L785.1,642.9 L786.6,643.6 L788.0,644.4 L789.5,645.1 L790.9,645.9 L792.3,646.7 L793.8,647.4 L795.2,648.2 L796.7,649.0 L798.1,649.7 L799.5,650.5 L801.0,651.2 L802.4,651.9 L803.9,652.6 L805.3,653.2 L806.7,653.9 L808.2,654.5" stroke="#fe4245" stroke-dasharray="33.4 46.8" stroke-dashoffset="57.0"/>
<path d="M808.2,654.5 L809.6,655.1 L811.1,655.7 L812.5,656.2 L813.9,656.7 L815.4,657.1 L816.8,657.5 L818.3,657.9 L819.7,658.3 L821.1,658.5 L822.6,658.8 L824.0,659.0 L825.5,659.2 L826.9,659.3 L828.3,659.4 L829.8,659.4 L831.2,659.4 L832.7,659.3 L834.1,659.2 L835.5,659.1 L837.0,658.9 L838.4,658.7 L839.9,658.4 L841.3,658.1 L842.7,657.7 L844.2,657.4 L845.6,656.9 L847.1,656.5 L848.5,656.0 L850.0,655.5 L851.4,655.0 L852.8,654.5 L854.3,653.9 L855.7,653.3 L857.2,652.7 L858.6,652.1 L860.0,651.4 L861.5,650.8 L862.9,650.1 L864.4,649.5 L865.8,648.8 L867.2,648.2 L868.7,647.6 L870.1,646.9 L871.6,646.3 L873.0,645.7 L874.4,645.1 L875.9,644.5 L877.3,643.9 L878.8,643.4 L880.2,642.8 L881.6,642.3 L883.1,641.9 L884.5,641.4" stroke="#fe4245" stroke-dasharray="33.4 46.8" stroke-dashoffset="58.4"/>
<path d="M884.5,641.4 L886.0,641.0 L887.4,640.6 L888.8,640.3 L890.3,640.0 L891.7,639.7 L893.2,639.4 L894.6,639.2 L896.0,639.0 L897.5,638.9 L898.9,638.8 L900.4,638.7 L901.8,638.7 L903.2,638.7 L904.7,638.8 L906.1,638.9 L907.6,639.0 L909.0,639.1 L910.5,639.3 L911.9,639.6 L913.3,639.8 L914.8,640.1 L916.2,640.4 L917.7,640.8 L919.1,641.2 L920.5,641.6 L922.0,642.0 L923.4,642.4 L924.9,642.9 L926.3,643.4 L927.7,643.9 L929.2,644.4 L930.6,644.9 L932.1,645.5 L933.5,646.0 L934.9,646.5 L936.4,647.1 L937.8,647.7 L939.3,648.2 L940.7,648.7 L942.1,649.3 L943.6,649.8 L944.0,650.0" stroke="#fe4245" stroke-dasharray="33.4 46.8" stroke-dashoffset="57.7"/>
<path d="M944.0,650.0 L945.0,650.3 L946.5,650.9 L947.9,651.3 L949.3,651.8 L950.8,652.3 L952.2,652.7 L953.7,653.2 L955.1,653.6 L956.5,653.9 L958.0,654.3 L959.4,654.6 L960.9,654.9 L962.3,655.2 L963.8,655.4 L965.2,655.6 L966.6,655.8 L968.1,656.0 L969.5,656.1 L971.0,656.2 L972.4,656.2 L973.8,656.2 L975.3,656.2 L976.7,656.2 L978.2,656.1 L979.6,656.0 L981.0,655.9 L982.5,655.7 L983.9,655.5 L985.4,655.3 L986.8,655.1 L988.2,654.8 L989.7,654.5 L991.1,654.2 L992.6,653.8 L994.0,653.5 L995.4,653.1 L996.9,652.7 L998.3,652.3 L999.8,651.9 L1001.2,651.4 L1002.6,651.0 L1004.1,650.5 L1005.5,650.1 L1007.0,649.6 L1008.4,649.1 L1009.8,648.7 L1011.3,648.2 L1012.7,647.7 L1014.2,647.3 L1015.6,646.8 L1017.0,646.4 L1018.5,646.0 L1019.9,645.5 L1021.4,645.1 L1022.8,644.7 L1024.3,644.4 L1025.7,644.0 L1027.1,643.7 L1028.6,643.3 L1030.0,643.0 L1031.5,642.8 L1032.9,642.5 L1034.3,642.3 L1035.8,642.1 L1037.2,641.9 L1038.7,641.7" stroke="#fe4245" stroke-dasharray="33.4 46.8" stroke-dashoffset="41.1"/>
<path d="M1038.7,641.7 L1040.1,641.6 L1041.5,641.5 L1043.0,641.4 L1044.4,641.4 L1045.9,641.4 L1047.3,641.4 L1048.7,641.4 L1050.2,641.5 L1051.6,641.6 L1053.1,641.7 L1054.5,641.8 L1055.9,642.0 L1057.4,642.2 L1058.8,642.4 L1060.3,642.6 L1061.7,642.9 L1063.1,643.1 L1064.6,643.4 L1066.0,643.7 L1067.5,644.1 L1068.9,644.4 L1070.3,644.7 L1071.8,645.1 L1073.2,645.5 L1074.7,645.8 L1076.1,646.2 L1077.6,646.6 L1079.0,647.0 L1080.4,647.4 L1081.9,647.8 L1083.3,648.2 L1084.8,648.6 L1086.2,649.0 L1087.6,649.4 L1089.1,649.7 L1090.5,650.1 L1092.0,650.5 L1093.4,650.8 L1094.8,651.1 L1096.3,651.5 L1097.7,651.8 L1099.2,652.1 L1100.6,652.3 L1102.0,652.6 L1103.5,652.8 L1104.9,653.0 L1106.4,653.2 L1107.8,653.4 L1109.2,653.5 L1110.7,653.7 L1112.1,653.8 L1113.6,653.9 L1115.0,653.9" stroke="#fe4245" stroke-dasharray="33.4 46.8" stroke-dashoffset="58.5"/>
<path d="M1115.0,653.9 L1116.4,654.0 L1117.9,654.0 L1119.3,654.0 L1120.8,653.9 L1122.2,653.9 L1123.6,653.8 L1125.1,653.7 L1126.5,653.6 L1128.0,653.5 L1129.4,653.3 L1130.8,653.1 L1132.3,652.9 L1133.7,652.7 L1135.2,652.5 L1136.6,652.2 L1138.1,652.0 L1139.5,651.7 L1140.9,651.4 L1142.4,651.1 L1143.8,650.8 L1145.3,650.5 L1146.7,650.2 L1148.1,649.9 L1149.6,649.5 L1151.0,649.2 L1152.5,648.9 L1153.9,648.5 L1155.3,648.2 L1156.8,647.9 L1158.2,647.5 L1159.7,647.2 L1161.1,646.9 L1162.5,646.6 L1164.0,646.3 L1165.4,646.0 L1166.9,645.7 L1168.3,645.4 L1169.7,645.2 L1171.2,644.9 L1172.6,644.7 L1174.1,644.5 L1175.5,644.3 L1176.9,644.1 L1178.4,643.9 L1179.8,643.8 L1181.3,643.7" stroke="#fe4245" stroke-dasharray="33.4 46.8" stroke-dashoffset="56.4"/>
<path d="M1181.3,643.7 L1182.7,643.6 L1184.1,643.5 L1185.6,643.4 L1187.0,643.3 L1188.5,643.3 L1189.9,643.3 L1191.3,643.3 L1192.8,643.3" stroke="#fe4245" stroke-dasharray="33.4 46.8" stroke-dashoffset="71.5"/>
<path d="M1192.8,643.3 L1194.2,643.4 L1195.7,643.4 L1197.1,643.5 L1198.6,643.6 L1200.0,643.7 L1201.4,643.9 L1202.9,644.0 L1204.3,644.2 L1205.8,644.4 L1207.2,644.6 L1208.6,644.8 L1210.1,645.0 L1211.5,645.2 L1213.0,645.5 L1214.4,645.7 L1215.8,646.0 L1217.3,646.2 L1218.7,646.5 L1220.2,646.8 L1221.6,647.1 L1223.0,647.3 L1224.5,647.6 L1225.9,647.9 L1227.4,648.2 L1228.8,648.5 L1230.2,648.8 L1231.7,649.0 L1233.1,649.3 L1234.6,649.6 L1236.0,649.8 L1237.4,650.1 L1238.9,650.3 L1240.3,650.5 L1241.8,650.8 L1243.2,651.0 L1244.6,651.2 L1246.1,651.3" stroke="#fe4245" stroke-dasharray="33.4 46.8" stroke-dashoffset="0.0"/>
<path d="M1246.1,651.3 L1247.5,651.5 L1249.0,651.7 L1250.4,651.8 L1251.9,651.9 L1253.3,652.0 L1254.7,652.1 L1256.2,652.2 L1257.6,652.3 L1259.1,652.3 L1260.5,652.3 L1261.9,652.4 L1263.4,652.4 L1264.8,652.3 L1266.3,652.3 L1267.7,652.2 L1269.1,652.2 L1270.6,652.1 L1272.0,652.0 L1273.5,651.9 L1274.9,651.7 L1276.3,651.6 L1277.8,651.5 L1279.2,651.3 L1280.7,651.1 L1282.1,650.9 L1283.5,650.7 L1285.0,650.5 L1286.4,650.3 L1287.9,650.1 L1289.3,649.9 L1290.7,649.6 L1292.2,649.4 L1293.6,649.2 L1295.1,648.9 L1296.5,648.7 L1297.9,648.4 L1299.4,648.2 L1300.8,648.0 L1302.3,647.7 L1303.7,647.5 L1305.1,647.3 L1306.6,647.0 L1308.0,646.8 L1309.5,646.6 L1310.9,646.4 L1312.4,646.2 L1313.8,646.0 L1315.2,645.8 L1316.7,645.7 L1318.1,645.5 L1319.6,645.4 L1321.0,645.3 L1322.4,645.1 L1323.9,645.0 L1325.3,644.9" stroke="#fe4245" stroke-dasharray="33.4 46.8" stroke-dashoffset="57.8"/>
<path d="M1325.3,644.9 L1326.8,644.9 L1328.2,644.8 L1329.6,644.7 L1331.1,644.7 L1332.5,644.7 L1334.0,644.7 L1335.4,644.7 L1336.8,644.7 L1338.3,644.7 L1339.7,644.8 L1341.2,644.8 L1342.6,644.9 L1344.0,645.0 L1345.5,645.1 L1346.9,645.2 L1348.4,645.3 L1349.8,645.4 L1351.2,645.6 L1352.7,645.7 L1354.1,645.9 L1355.6,646.1 L1357.0,646.2 L1358.4,646.4 L1359.9,646.6 L1361.3,646.8 L1362.8,647.0 L1364.2,647.2 L1365.7,647.4 L1367.1,647.6 L1368.5,647.8 L1370.0,648.0 L1371.4,648.2 L1372.9,648.4 L1374.3,648.6 L1375.7,648.8 L1377.2,649.0 L1378.6,649.2 L1380.1,649.4 L1381.5,649.5 L1382.9,649.7 L1384.4,649.9 L1385.8,650.0 L1387.3,650.2 L1388.7,650.3 L1390.1,650.5 L1391.6,650.6 L1393.0,650.7 L1394.5,650.8 L1395.9,650.9 L1397.3,651.0 L1398.8,651.0 L1400.2,651.1 L1401.7,651.1 L1403.1,651.2 L1404.5,651.2" stroke="#fe4245" stroke-dasharray="33.4 46.8" stroke-dashoffset="57.5"/>
<path d="M1404.5,651.2 L1406.0,651.2 L1407.4,651.2 L1408.9,651.2 L1410.3,651.1 L1411.7,651.1 L1413.2,651.1 L1414.6,651.0 L1416.1,650.9 L1417.5,650.8 L1418.9,650.7 L1420.4,650.6 L1421.8,650.5 L1423.3,650.4 L1424.7,650.3 L1426.2,650.2 L1427.6,650.0 L1429.0,649.9 L1430.5,649.7 L1431.9,649.6 L1433.4,649.4 L1434.8,649.2 L1436.2,649.1 L1437.7,648.9 L1439.1,648.7 L1440.6,648.5 L1442.0,648.4 L1443.4,648.2 L1444.9,648.0 L1446.3,647.9 L1447.8,647.7 L1449.2,647.5 L1450.6,647.4 L1452.1,647.2 L1453.5,647.1 L1455.0,646.9 L1456.4,646.8 L1457.8,646.6 L1459.3,646.5 L1460.7,646.4 L1462.2,646.3 L1463.6,646.2 L1465.0,646.1 L1466.5,646.0 L1467.9,645.9 L1469.4,645.9 L1470.8,645.8 L1472.2,645.8 L1473.7,645.7 L1475.1,645.7 L1476.6,645.7 L1478.0,645.7 L1479.5,645.7 L1480.9,645.7 L1482.3,645.7 L1483.8,645.7" stroke="#fe4245" stroke-dasharray="33.4 46.8" stroke-dashoffset="57.5"/>
<path d="M1483.8,645.7 L1485.2,645.8 L1486.7,645.8 L1488.1,645.9 L1489.5,646.0 L1491.0,646.0 L1492.4,646.1 L1493.9,646.2 L1495.3,646.3 L1496.7,646.4 L1498.2,646.5 L1499.6,646.7 L1501.1,646.8 L1502.5,646.9 L1503.9,647.0 L1505.4,647.2 L1506.8,647.3 L1508.3,647.5 L1509.7,647.6 L1511.1,647.8 L1512.6,647.9 L1514.0,648.1 L1515.5,648.2 L1516.9,648.3 L1518.3,648.5 L1519.8,648.6 L1521.2,648.8 L1522.7,648.9 L1524.1,649.0 L1525.5,649.2 L1527.0,649.3 L1528.4,649.4 L1529.9,649.5 L1531.3,649.6 L1532.7,649.7 L1534.2,649.8 L1535.6,649.9 L1537.1,650.0 L1538.5,650.1 L1540.0,650.1 L1541.4,650.2 L1542.8,650.2 L1544.3,650.3 L1545.7,650.3 L1547.2,650.3 L1548.6,650.3 L1550.0,650.3 L1551.5,650.3 L1552.9,650.3 L1554.4,650.3 L1555.8,650.3 L1557.2,650.3 L1558.7,650.2 L1560.1,650.2 L1561.6,650.1 L1563.0,650.0" stroke="#fe4245" stroke-dasharray="33.4 46.8" stroke-dashoffset="57.9"/>
<path d="M1563.0,650.0 L1564.4,650.0 L1565.9,649.9 L1567.3,649.8 L1568.8,649.7 L1570.2,649.6 L1571.6,649.5 L1573.1,649.4 L1574.5,649.3 L1576.0,649.2 L1577.4,649.1 L1578.8,648.9 L1580.3,648.8 L1581.7,648.7 L1583.2,648.6 L1584.6,648.4 L1586.0,648.3 L1587.5,648.2 L1588.9,648.1 L1590.4,648.0 L1591.8,647.8 L1593.2,647.7 L1594.7,647.6 L1596.1,647.5 L1597.6,647.4 L1599.0,647.3 L1600.5,647.2 L1601.9,647.1 L1603.3,647.0 L1604.8,646.9 L1606.2,646.8 L1607.7,646.7 L1609.1,646.7 L1610.5,646.6 L1612.0,646.6 L1613.4,646.5 L1614.9,646.5 L1616.3,646.4 L1617.7,646.4 L1619.2,646.4 L1620.6,646.4 L1622.1,646.4 L1623.5,646.4" stroke="#fe4245" stroke-dasharray="33.4 46.8" stroke-dashoffset="57.2"/>
<path d="M183.0,604.0 L212.0,632.0 L237.0,683.0 L264.0,697.0 L270.1,685.2" stroke="#0068e2" stroke-dasharray="40.6 27.5 4.4 27.8" stroke-dashoffset="5.7"/>
<path d="M270.1,685.2 L292.0,643.0 L312.0,607.0 L322.0,597.0" stroke="#0068e2" stroke-dasharray="40.6 27.5 4.4 27.8" stroke-dashoffset="52.7"/>
<path d="M322.0,597.0 L336.0,601.0 L353.0,627.0 L370.0,666.0 L381.6,688.0 L391.0,700.0 L398.7,709.6" stroke="#0068e2" stroke-dasharray="40.6 27.5 4.4 27.8" stroke-dashoffset="54.3"/>
<path d="M398.7,709.6 L399.0,710.0 L406.0,701.0 L430.0,661.0 L440.0,636.0 L453.0,607.0 L480.0,592.0 L486.8,604.8" stroke="#0068e2" stroke-dasharray="40.6 27.5 4.4 27.8" stroke-dashoffset="84.2"/>
<path d="M486.8,604.8 L495.0,620.0 L506.0,647.0 L521.5,687.0 L532.0,706.0 L544.0,715.0" stroke="#0068e2" stroke-dasharray="40.6 27.5 4.4 27.8" stroke-dashoffset="55.9"/>
<path d="M544.0,715.0 L555.5,704.0 L572.7,666.0 L582.3,635.5 L590.8,611.3 L606.8,580.2 L613.0,577.0 L616.1,579.1" stroke="#0068e2" stroke-dasharray="40.6 27.5 4.4 27.8" stroke-dashoffset="85.8"/>
<path d="M616.1,579.1 L626.0,586.0 L639.2,611.2 L651.9,652.8 L659.6,678.0 L668.0,706.0 L696.0,729.0 L699.6,719.7" stroke="#0068e2" stroke-dasharray="40.6 27.5 4.4 27.8" stroke-dashoffset="61.1"/>
<path d="M699.6,719.7 L706.0,703.0 L716.0,672.0 L727.3,630.2 L735.0,599.0 L743.5,574.5 L771.4,566.0 L776.7,582.1" stroke="#0068e2" stroke-dasharray="40.6 27.5 4.4 27.8" stroke-dashoffset="48.8"/>
<path d="M776.7,582.1 L781.0,595.0 L789.0,625.0 L800.5,667.0 L805.0,695.0 L813.7,725.6 L836.0,757.0 L839.1,749.1" stroke="#0068e2" stroke-dasharray="40.6 27.5 4.4 27.8" stroke-dashoffset="54.7"/>
<path d="M839.1,749.1 L848.0,726.5 L856.0,699.0 L865.7,656.0 L870.0,630.0 L876.3,598.0 L886.0,556.4 L895.0,530.0 L902.0,524.0 L906.8,526.7" stroke="#0068e2" stroke-dasharray="40.6 27.5 4.4 27.8" stroke-dashoffset="46.2"/>
<path d="M906.8,526.7 L909.0,528.0 L916.0,542.0 L926.7,585.0 L931.5,613.7 L937.5,642.5 L944.7,685.6 L950.7,715.5 L955.4,743.0 L967.4,783.8 L973.0,791.0" stroke="#0068e2" stroke-dasharray="40.6 27.5 4.4 27.8" stroke-dashoffset="78.1"/>
<path d="M973.0,791.0 L985.4,775.4 L992.6,747.8 L1002.2,699.9 L1005.7,676.0 L1009.3,647.2 L1016.5,604.1 L1021.3,574.2 L1026.1,544.3 L1035.7,504.7 L1045.1,487.3" stroke="#0068e2" stroke-dasharray="40.6 27.5 4.4 27.8" stroke-dashoffset="48.2"/>
<path d="M1045.1,487.3 L1048.0,482.0 L1049.0,482.2 L1050.0,482.7 L1051.0,483.5 L1052.0,484.7 L1053.0,486.3 L1053.9,488.2 L1054.9,490.4 L1055.9,492.9 L1056.9,495.7 L1057.9,498.9 L1058.9,502.4 L1059.9,506.2 L1060.9,510.3 L1061.9,514.6 L1062.9,519.3 L1063.9,524.2 L1064.8,529.4 L1065.8,534.8 L1066.8,540.5 L1067.8,546.4 L1068.8,552.5 L1069.8,558.8 L1070.8,565.3 L1071.8,572.0 L1072.8,578.9 L1073.8,585.9 L1074.8,593.0 L1075.7,600.3 L1076.7,607.7 L1077.7,615.2 L1078.7,622.7 L1079.7,630.4 L1080.7,638.0 L1081.7,645.7 L1082.7,653.5 L1083.7,661.2 L1084.7,668.9 L1085.6,676.6 L1086.6,684.3 L1087.6,691.9 L1088.6,699.4 L1089.6,706.9 L1090.6,714.2 L1091.6,721.4 L1092.6,728.6 L1093.6,735.5 L1094.6,742.3 L1095.6,748.9 L1096.5,755.4 L1097.5,761.6 L1098.5,767.7 L1099.5,773.5 L1100.5,779.1 L1101.5,787.0 L1109.0,815.0 L1128.0,828.0 L1135.0,797.0 L1135.8,791.6" stroke="#0068e2" stroke-dasharray="40.6 27.5 4.4 27.8" stroke-dashoffset="55.6"/>
<path d="M1135.8,791.6 L1140.2,763.6 L1146.9,710.0 L1152.8,664.5 L1158.1,614.9" stroke="#0068e2" stroke-dasharray="40.6 27.5 4.4 27.8" stroke-dashoffset="78.1"/>
<path d="M1158.1,614.9 L1163.5,566.7 L1169.4,518.5 L1172.3,493.0 L1176.1,470.3 L1177.1,472.3 L1178.2,466.1 L1179.2,460.3 L1180.2,454.9 L1181.2,450.0 L1182.3,445.5 L1183.3,441.5 L1184.3,437.9 L1185.3,434.7 L1186.4,432.1 L1187.4,429.9 L1188.4,428.2 L1189.4,427.0 L1190.5,426.2 L1191.5,426.0" stroke="#0068e2" stroke-dasharray="40.6 27.5 4.4 27.8" stroke-dashoffset="48.1"/>
<path d="M1191.5,426.0 L1192.5,426.2 L1193.5,426.9 L1194.5,428.1 L1195.5,429.6 L1196.5,431.7 L1197.5,434.2 L1198.5,437.1 L1199.4,440.5 L1200.4,444.3 L1201.4,448.5 L1202.4,453.1 L1203.4,458.2 L1204.4,463.6 L1205.4,469.4 L1206.4,475.6 L1207.4,482.1 L1208.4,489.1 L1209.4,496.3 L1210.4,503.9 L1211.4,511.7 L1212.4,519.9 L1213.3,528.3 L1214.3,537.0 L1215.3,546.0 L1216.3,555.2 L1217.3,564.6 L1218.3,574.2 L1219.3,583.9 L1220.3,593.8 L1221.3,603.9 L1222.3,614.1 L1223.3,624.3 L1224.3,634.7 L1225.3,645.1 L1226.3,655.5 L1227.2,666.0 L1227.5,668.2" stroke="#0068e2" stroke-dasharray="40.6 27.5 4.4 27.8" stroke-dashoffset="100.3"/>
<path d="M1227.5,668.2 L1228.2,676.5 L1229.2,686.9 L1230.2,697.3 L1231.2,707.7 L1232.2,717.9 L1233.2,728.1 L1234.2,738.2 L1235.2,748.1 L1236.2,757.8 L1237.2,767.4 L1238.2,776.8 L1239.2,786.0 L1240.2,795.0 L1241.2,803.7 L1242.1,812.1 L1243.1,820.3 L1244.1,828.1 L1245.1,835.7 L1246.1,842.9 L1247.1,849.9 L1248.1,856.4 L1249.1,862.6 L1250.1,868.4 L1251.1,873.8 L1252.1,878.9 L1253.1,883.5 L1254.1,887.7 L1255.1,891.5 L1256.0,894.9 L1257.0,897.8 L1258.0,900.3 L1259.0,902.4 L1260.0,903.9 L1261.0,905.1 L1262.0,905.8 L1263.0,906.0" stroke="#0068e2" stroke-dasharray="40.6 27.5 4.4 27.8" stroke-dashoffset="46.2"/>
<path d="M1263.0,906.0 L1264.0,905.7 L1265.0,904.9 L1266.0,903.5 L1267.0,901.6 L1268.0,899.2 L1269.0,896.2 L1270.0,892.6 L1271.0,888.6 L1272.0,884.0 L1273.0,879.0 L1274.0,873.4 L1275.0,867.3 L1276.0,860.8 L1277.0,853.8 L1278.0,846.4 L1279.0,838.5 L1280.0,830.2 L1281.0,821.6 L1282.0,812.5 L1283.0,803.1 L1284.0,793.3 L1285.0,783.2 L1286.0,772.7 L1287.0,762.0 L1288.0,751.0 L1289.0,739.8 L1290.0,728.4 L1291.0,716.7 L1292.0,704.9 L1293.0,692.9 L1294.0,680.8 L1295.0,668.6 L1296.0,656.2 L1297.0,643.9 L1297.9,632.2" stroke="#0068e2" stroke-dasharray="40.6 27.5 4.4 27.8" stroke-dashoffset="85.6"/>
<path d="M1297.9,632.2 L1298.0,631.5 L1299.0,619.0 L1300.0,606.6 L1301.0,594.3 L1302.0,581.9 L1303.0,569.7 L1304.0,557.6 L1305.0,545.6 L1306.0,533.8 L1307.0,522.1 L1308.0,510.7 L1309.0,499.5 L1310.0,488.5 L1311.0,477.8 L1312.0,467.3 L1313.0,457.2 L1314.0,447.4 L1315.0,438.0 L1316.0,428.9 L1317.0,420.3 L1318.0,412.0 L1319.0,404.1 L1320.0,396.7 L1321.0,389.7 L1322.0,383.2 L1323.0,377.1 L1324.0,371.5 L1325.0,366.5 L1326.0,361.9 L1327.0,357.9 L1328.0,354.3 L1329.0,351.3 L1330.0,348.9 L1331.0,347.0 L1332.0,345.6 L1333.0,344.8 L1334.0,344.5 L1335.0,344.8 L1336.0,345.7 L1336.5,346.4" stroke="#0068e2" stroke-dasharray="40.6 27.5 4.4 27.8" stroke-dashoffset="52.2"/>
<path d="M1336.5,346.4 L1337.0,347.2 L1338.0,349.2 L1339.0,351.9 L1340.0,355.1 L1341.0,359.0 L1342.0,363.3 L1343.0,368.3 L1344.0,373.8 L1345.0,379.8 L1346.0,386.4 L1347.0,393.5 L1348.0,401.0 L1349.0,409.1 L1350.0,417.7 L1351.0,426.7 L1352.0,436.2 L1353.0,446.1 L1354.0,456.4 L1355.0,467.1 L1356.0,478.2 L1357.0,489.6 L1358.0,501.4 L1359.0,513.4 L1360.0,525.8 L1361.0,538.4 L1362.0,551.3 L1363.0,564.4 L1364.0,577.7 L1365.0,591.2 L1366.0,604.8 L1367.0,618.5 L1368.0,632.4 L1369.0,646.3 L1370.0,660.3" stroke="#0068e2" stroke-dasharray="40.6 27.5 4.4 27.8" stroke-dashoffset="46.6"/>
<path d="M1370.0,660.3 L1371.0,674.2 L1372.0,688.2 L1373.0,702.2 L1374.0,716.1 L1375.0,730.0 L1376.0,743.7 L1377.0,757.3 L1378.0,770.8 L1379.0,784.1 L1380.0,797.2 L1381.0,810.1 L1382.0,822.7 L1383.0,835.1 L1384.0,847.1 L1385.0,858.9 L1386.0,870.3 L1387.0,881.4 L1388.0,892.1 L1389.0,902.4 L1390.0,912.3 L1391.0,921.8 L1392.0,930.8 L1393.0,939.4 L1394.0,947.5 L1395.0,955.0 L1396.0,962.1 L1397.0,968.7 L1398.0,974.7 L1399.0,980.2 L1400.0,985.2 L1401.0,989.5 L1402.0,993.4 L1403.0,996.6 L1404.0,999.3 L1404.1,999.6" stroke="#0068e2" stroke-dasharray="40.6 27.5 4.4 27.8" stroke-dashoffset="54.0"/>
<path d="M1404.1,999.6 L1405.0,1001.3 L1406.0,1002.8 L1407.0,1003.7 L1408.0,1004.0 L1409.0,1003.6 L1410.0,1002.5 L1411.0,1000.7 L1412.0,998.1 L1413.0,994.9 L1414.0,990.9 L1415.0,986.2 L1416.0,980.8 L1417.0,974.7 L1418.0,967.9 L1419.0,960.5 L1420.0,952.4 L1421.0,943.7 L1422.0,934.3 L1423.0,924.4 L1424.0,913.9 L1425.0,902.8 L1426.0,891.2 L1427.0,879.0 L1428.0,866.4 L1429.0,853.3 L1430.0,839.7 L1431.0,825.7 L1432.0,811.4 L1433.0,796.6 L1434.0,781.6 L1435.0,766.2 L1436.0,750.5 L1437.0,734.6 L1438.0,718.5 L1439.0,702.1 L1440.0,685.6 L1441.0,669.0 L1442.0,652.3 L1442.6,643.0" stroke="#0068e2" stroke-dasharray="40.6 27.5 4.4 27.8" stroke-dashoffset="93.4"/>
<path d="M1442.6,643.0 L1443.0,635.6 L1444.0,618.8 L1445.0,601.9 L1446.0,585.2 L1447.0,568.5 L1448.0,551.9 L1449.0,535.4 L1450.0,519.0 L1451.0,502.9 L1452.0,487.0 L1453.0,471.3 L1454.0,455.9 L1455.0,440.9 L1456.0,426.1 L1457.0,411.8 L1458.0,397.8 L1459.0,384.2 L1460.0,371.1 L1461.0,358.5 L1462.0,346.3 L1463.0,334.7 L1464.0,323.6 L1465.0,313.1 L1466.0,303.2 L1467.0,293.8 L1468.0,285.1 L1469.0,277.0 L1470.0,269.6 L1471.0,262.8 L1472.0,256.7 L1473.0,251.3 L1474.0,246.6 L1474.8,243.3" stroke="#0068e2" stroke-dasharray="40.6 27.5 4.4 27.8" stroke-dashoffset="62.5"/>
<path d="M1474.8,243.3 L1475.0,242.6 L1476.0,239.4 L1477.0,236.8 L1478.0,235.0 L1479.0,233.9 L1480.0,233.5 L1481.0,233.9 L1482.0,235.2 L1483.0,237.3 L1484.0,240.3 L1485.0,244.1 L1486.0,248.8 L1487.0,254.3 L1488.1,260.6 L1489.1,267.7 L1490.1,275.5 L1491.1,284.2 L1492.1,293.6 L1493.1,303.8 L1494.1,314.7 L1495.1,326.2 L1496.1,338.5 L1497.1,351.4 L1498.1,364.9 L1499.1,379.1 L1500.1,393.8 L1501.1,409.1 L1502.2,424.9 L1503.2,441.1 L1504.2,457.9 L1505.2,475.0 L1506.2,492.6 L1507.2,510.5 L1508.2,528.8 L1509.2,547.3 L1510.2,566.1 L1511.2,585.1 L1512.2,604.3 L1513.2,623.7 L1514.2,643.1 L1515.2,661.2" stroke="#0068e2" stroke-dasharray="40.6 27.5 4.4 27.8" stroke-dashoffset="53.8"/>
<path d="M1515.2,661.2 L1515.2,662.7 L1516.2,682.2 L1517.3,701.8 L1518.3,721.4 L1519.3,740.8 L1520.3,760.2 L1521.3,779.4 L1522.3,798.4 L1523.3,817.2 L1524.3,835.7 L1525.3,854.0 L1526.3,871.9 L1527.3,889.5 L1528.3,906.6 L1529.3,923.4 L1530.3,939.6 L1531.4,955.4 L1532.4,970.7 L1533.4,985.4 L1534.4,999.6 L1535.4,1013.1 L1536.4,1026.0 L1537.4,1038.3 L1538.4,1049.8 L1539.4,1060.7 L1540.4,1070.9 L1541.4,1080.3 L1542.4,1089.0 L1543.4,1096.8 L1544.4,1103.9 L1545.5,1110.2 L1546.5,1115.7 L1547.5,1120.4 L1548.5,1124.2 L1549.5,1127.2 L1550.5,1129.3 L1551.5,1130.6" stroke="#0068e2" stroke-dasharray="40.6 27.5 4.4 27.8" stroke-dashoffset="80.4"/>
<path d="M1551.5,1130.6 L1552.5,1131.0 L1553.5,1130.5 L1554.5,1128.9 L1555.5,1126.4 L1556.5,1122.8 L1557.5,1118.2 L1558.5,1112.5 L1559.5,1105.9 L1560.5,1098.3 L1561.5,1089.8 L1562.5,1080.2 L1563.5,1069.8 L1564.5,1058.4 L1565.5,1046.2 L1566.5,1033.1 L1567.5,1019.1 L1568.5,1004.4 L1569.5,988.8 L1570.5,972.5 L1571.5,955.5 L1572.5,937.8 L1573.5,919.4 L1574.5,900.4 L1575.5,880.8 L1576.5,860.7 L1577.5,840.1 L1578.5,819.1 L1579.5,797.6 L1580.5,775.7 L1581.5,753.5 L1582.5,731.0 L1583.5,708.2 L1584.5,685.3 L1585.5,662.2 L1586.5,639.0 L1587.5,615.7 L1587.8,608.4" stroke="#0068e2" stroke-dasharray="40.6 27.5 4.4 27.8" stroke-dashoffset="53.6"/>
<path d="M1587.8,608.4 L1588.5,592.3 L1589.5,569.0 L1590.5,545.8 L1591.5,522.7 L1592.5,499.8 L1593.5,477.0 L1594.5,454.5 L1595.5,432.3 L1596.5,410.4 L1597.5,388.9 L1598.5,367.9 L1599.5,347.3 L1600.5,327.2 L1601.5,307.6 L1602.5,288.6 L1603.5,270.2 L1604.5,252.5 L1605.5,235.5 L1606.5,219.2 L1607.5,203.6 L1608.5,188.9 L1609.5,174.9 L1610.5,161.8 L1611.5,149.6 L1612.5,138.2 L1613.5,127.8 L1614.5,118.2 L1615.5,109.7 L1616.5,102.1 L1617.5,95.5" stroke="#0068e2" stroke-dasharray="40.6 27.5 4.4 27.8" stroke-dashoffset="62.1"/>
<path d="M183.0,596.5 L198.0,613.0 L212.0,632.0 L212.0,632.0 L237.0,683.0 L237.0,683.0 L252.0,688.0 L266.7,689.5" stroke="#00ab63" stroke-dasharray="4.9 42.5" stroke-dashoffset="42.6"/>
<path d="M266.7,689.5 L268.9,689.7 L292.0,643.0 L292.1,645.3 L312.0,607.0 L322.0,597.0" stroke="#00ab63" stroke-dasharray="4.9 42.5" stroke-dashoffset="41.9"/>
<path d="M322.0,597.0 L336.0,601.0 L353.0,627.0 L370.0,666.0 L381.6,688.0 L381.6,688.0 L389.0,698.5 L395.0,703.0 L418.6,679.4" stroke="#00ab63" stroke-dasharray="4.9 42.5" stroke-dashoffset="17.3"/>
<path d="M418.6,679.4 L423.0,675.0 L430.0,661.0 L440.0,636.0 L453.0,607.0 L453.0,612.0 L466.0,591.0 L474.0,592.0 L495.0,620.0 L495.0,620.0 L498.1,627.6" stroke="#00ab63" stroke-dasharray="4.9 42.5" stroke-dashoffset="39.2"/>
<path d="M498.1,627.6 L506.0,647.0 L521.5,687.0 L532.0,706.0 L544.0,715.0" stroke="#00ab63" stroke-dasharray="4.9 42.5" stroke-dashoffset="10.5"/>
<path d="M544.0,715.0 L555.5,704.0 L572.7,666.0 L582.3,635.5 L590.8,611.3 L606.8,580.2 L606.8,580.2 L617.0,577.0" stroke="#00ab63" stroke-dasharray="4.9 42.5" stroke-dashoffset="13.6"/>
<path d="M617.0,577.0 L626.0,584.0 L639.2,611.2 L639.2,611.2 L651.9,652.8 L659.6,678.0 L668.0,706.0 L696.0,729.0" stroke="#00ab63" stroke-dasharray="4.9 42.5" stroke-dashoffset="38.0"/>
<path d="M696.0,729.0 L706.0,703.0 L716.0,672.0 L727.3,630.2 L735.0,599.0 L743.5,574.5 L771.4,566.0" stroke="#00ab63" stroke-dasharray="4.9 42.5" stroke-dashoffset="24.2"/>
<path d="M771.4,566.0 L781.0,595.0 L789.0,625.0 L800.5,667.0 L805.0,695.0 L813.7,725.6 L831.5,750.7" stroke="#00ab63" stroke-dasharray="4.9 42.5" stroke-dashoffset="35.3"/>
<path d="M831.5,750.7 L836.0,757.0 L848.0,726.5 L856.0,699.0 L865.7,656.0 L870.0,630.0 L876.3,598.0 L886.0,556.4 L895.0,530.0 L902.0,524.0 L907.6,527.2" stroke="#00ab63" stroke-dasharray="4.9 42.5" stroke-dashoffset="41.3"/>
<path d="M907.6,527.2 L909.0,528.0 L916.0,542.0 L926.7,585.0 L931.5,613.7 L937.5,642.5 L944.7,685.6 L950.7,715.5 L955.4,743.0 L967.4,783.8 L969.6,786.7" stroke="#00ab63" stroke-dasharray="4.9 42.5" stroke-dashoffset="10.5"/>
<path d="M969.6,786.7 L973.0,791.0 L985.4,775.4 L992.6,747.8 L1002.2,699.9 L1005.7,676.0 L1009.3,647.2 L1016.5,604.1 L1021.3,574.2 L1026.1,544.3 L1035.7,504.7 L1048.0,482.0" stroke="#00ab63" stroke-dasharray="4.9 42.5" stroke-dashoffset="40.4"/>
<path d="M1048.0,482.0 L1049.0,482.2 L1050.0,482.7 L1051.0,483.5 L1052.0,484.7 L1053.0,486.3 L1053.9,488.2 L1054.9,490.4 L1055.9,492.9 L1056.9,495.7 L1057.9,498.9 L1058.9,502.4 L1059.9,506.2 L1060.9,510.3 L1061.9,514.6 L1062.9,519.3 L1063.9,524.2 L1064.8,529.4 L1065.8,534.8 L1066.8,540.5 L1067.8,546.4 L1068.8,552.5 L1069.8,558.8 L1070.8,565.3 L1071.8,572.0 L1072.8,578.9 L1073.8,585.9 L1074.8,593.0 L1075.7,600.3 L1076.7,607.7 L1077.7,615.2 L1078.7,622.7 L1079.7,630.4 L1080.7,638.0 L1081.7,645.7 L1082.7,653.5 L1083.7,661.2 L1084.7,668.9 L1085.6,676.6 L1086.6,684.3 L1087.6,691.9 L1088.6,699.4 L1089.6,706.9 L1090.6,714.2 L1091.6,721.4 L1092.6,728.6 L1093.6,735.5 L1094.6,742.3 L1095.6,748.9 L1096.5,755.4 L1097.5,761.6 L1098.5,767.7 L1099.5,773.5 L1100.5,779.1 L1101.5,787.0 L1101.5,787.0 L1108.0,820.0 L1113.0,835.0 L1120.0,830.0" stroke="#00ab63" stroke-dasharray="4.9 42.5" stroke-dashoffset="26.1"/>
<path d="M1120.0,830.0 L1135.0,797.0 L1135.0,800.0 L1140.2,763.6 L1146.9,710.0 L1152.8,664.5 L1158.1,614.9 L1158.4,612.2" stroke="#00ab63" stroke-dasharray="4.9 42.5" stroke-dashoffset="19.0"/>
<path d="M1158.4,612.2 L1163.5,566.7 L1169.4,518.5 L1172.3,493.0 L1176.1,470.3 L1177.1,472.3 L1178.2,466.1 L1179.2,460.3 L1180.2,454.9 L1181.2,450.0 L1182.3,445.5 L1183.3,441.5 L1184.3,437.9 L1185.3,434.7 L1186.4,432.1 L1187.4,429.9 L1188.4,428.2 L1189.4,427.0 L1190.5,426.2 L1191.5,426.0" stroke="#00ab63" stroke-dasharray="4.9 42.5" stroke-dashoffset="10.6"/>
<path d="M1191.5,426.0 L1192.5,426.2 L1193.5,426.9 L1194.5,428.1 L1195.5,429.6 L1196.5,431.7 L1197.5,434.2 L1198.5,437.1 L1199.4,440.5 L1200.4,444.3 L1201.4,448.5 L1202.4,453.1 L1203.4,458.2 L1204.4,463.6 L1205.4,469.4 L1206.4,475.6 L1207.4,482.1 L1208.4,489.1 L1209.4,496.3 L1210.4,503.9 L1211.4,511.7 L1212.4,519.9 L1213.3,528.3 L1214.3,537.0 L1215.3,546.0 L1216.3,555.2 L1217.3,564.6 L1218.3,574.2 L1219.3,583.9 L1220.3,593.8 L1221.3,603.9 L1222.3,614.1 L1223.3,624.3 L1224.3,634.7 L1225.3,645.1 L1226.3,655.5 L1227.2,666.0 L1228.1,675.0" stroke="#00ab63" stroke-dasharray="4.9 42.5" stroke-dashoffset="0.0"/>
<path d="M1228.1,675.0 L1228.2,676.5 L1229.2,686.9 L1230.2,697.3 L1231.2,707.7 L1232.2,717.9 L1233.2,728.1 L1234.2,738.2 L1235.2,748.1 L1236.2,757.8 L1237.2,767.4 L1238.2,776.8 L1239.2,786.0 L1240.2,795.0 L1241.2,803.7 L1242.1,812.1 L1243.1,820.3 L1244.1,828.1 L1245.1,835.7 L1246.1,842.9 L1247.1,849.9 L1248.1,856.4 L1249.1,862.6 L1250.1,868.4 L1251.1,873.8 L1252.1,878.9 L1253.1,883.5 L1254.1,887.7 L1255.1,891.5 L1256.0,894.9 L1257.0,897.8 L1258.0,900.3 L1259.0,902.4 L1260.0,903.9 L1261.0,905.1 L1262.0,905.8 L1263.0,906.0 L1264.0,905.7 L1264.4,905.4" stroke="#00ab63" stroke-dasharray="4.9 42.5" stroke-dashoffset="10.5"/>
<path d="M1264.4,905.4 L1265.0,904.9 L1266.0,903.5 L1267.0,901.6 L1268.0,899.2 L1269.0,896.2 L1270.0,892.6 L1271.0,888.6 L1272.0,884.0 L1273.0,879.0 L1274.0,873.4 L1275.0,867.3 L1276.0,860.8 L1277.0,853.8 L1278.0,846.4 L1279.0,838.5 L1280.0,830.2 L1281.0,821.6 L1282.0,812.5 L1283.0,803.1 L1284.0,793.3 L1285.0,783.2 L1286.0,772.7 L1287.0,762.0 L1288.0,751.0 L1289.0,739.8 L1290.0,728.4 L1291.0,716.7 L1292.0,704.9 L1293.0,692.9 L1294.0,680.8 L1295.0,668.6 L1296.0,656.2 L1297.0,643.9 L1297.3,640.2" stroke="#00ab63" stroke-dasharray="4.9 42.5" stroke-dashoffset="10.6"/>
<path d="M1297.3,640.2 L1298.0,631.5 L1299.0,619.0 L1300.0,606.6 L1301.0,594.3 L1302.0,581.9 L1303.0,569.7 L1304.0,557.6 L1305.0,545.6 L1306.0,533.8 L1307.0,522.1 L1308.0,510.7 L1309.0,499.5 L1310.0,488.5 L1311.0,477.8 L1312.0,467.3 L1313.0,457.2 L1314.0,447.4 L1315.0,438.0 L1316.0,428.9 L1317.0,420.3 L1318.0,412.0 L1319.0,404.1 L1320.0,396.7 L1321.0,389.7 L1322.0,383.2 L1323.0,377.1 L1324.0,371.5 L1325.0,366.5 L1326.0,361.9 L1327.0,357.9 L1328.0,354.3 L1329.0,351.3 L1330.0,348.9 L1331.0,347.0 L1332.0,345.6 L1333.0,344.8 L1334.0,344.5 L1335.0,344.8 L1336.0,345.7 L1337.0,347.2 L1337.7,348.6" stroke="#00ab63" stroke-dasharray="4.9 42.5" stroke-dashoffset="37.8"/>
<path d="M1337.7,348.6 L1338.0,349.2 L1339.0,351.9 L1340.0,355.1 L1341.0,359.0 L1342.0,363.3 L1343.0,368.3 L1344.0,373.8 L1345.0,379.8 L1346.0,386.4 L1347.0,393.5 L1348.0,401.0 L1349.0,409.1 L1350.0,417.7 L1351.0,426.7 L1352.0,436.2 L1353.0,446.1 L1354.0,456.4 L1355.0,467.1 L1356.0,478.2 L1357.0,489.6 L1358.0,501.4 L1359.0,513.4 L1360.0,525.8 L1361.0,538.4 L1362.0,551.3 L1363.0,564.4 L1364.0,577.7 L1365.0,591.2 L1366.0,604.8 L1367.0,618.5 L1368.0,632.4 L1369.0,646.3 L1370.0,660.3" stroke="#00ab63" stroke-dasharray="4.9 42.5" stroke-dashoffset="10.6"/>
<path d="M1370.0,660.3 L1371.0,674.2 L1372.0,688.2 L1373.0,702.2 L1374.0,716.1 L1375.0,730.0 L1376.0,743.7 L1377.0,757.3 L1378.0,770.8 L1379.0,784.1 L1380.0,797.2 L1381.0,810.1 L1382.0,822.7 L1383.0,835.1 L1384.0,847.1 L1385.0,858.9 L1386.0,870.3 L1387.0,881.4 L1388.0,892.1 L1389.0,902.4 L1390.0,912.3 L1391.0,921.8 L1392.0,930.8 L1393.0,939.4 L1394.0,947.5 L1395.0,955.0 L1396.0,962.1 L1397.0,968.7 L1398.0,974.7 L1399.0,980.2 L1400.0,985.2 L1401.0,989.5 L1402.0,993.4 L1403.0,996.6 L1403.7,998.4" stroke="#00ab63" stroke-dasharray="4.9 42.5" stroke-dashoffset="29.1"/>
<path d="M1403.7,998.4 L1404.0,999.3 L1405.0,1001.3 L1406.0,1002.8 L1407.0,1003.7 L1408.0,1004.0 L1409.0,1003.6 L1410.0,1002.5 L1411.0,1000.7 L1412.0,998.1 L1413.0,994.9 L1414.0,990.9 L1415.0,986.2 L1416.0,980.8 L1417.0,974.7 L1418.0,967.9 L1419.0,960.5 L1420.0,952.4 L1421.0,943.7 L1422.0,934.3 L1423.0,924.4 L1424.0,913.9 L1425.0,902.8 L1426.0,891.2 L1427.0,879.0 L1428.0,866.4 L1429.0,853.3 L1430.0,839.7 L1431.0,825.7 L1432.0,811.4 L1433.0,796.6 L1434.0,781.6 L1435.0,766.2 L1436.0,750.5 L1437.0,734.6 L1438.0,718.5 L1439.0,702.1 L1440.0,685.6 L1441.0,669.0 L1442.0,652.3 L1443.0,635.6" stroke="#00ab63" stroke-dasharray="4.9 42.5" stroke-dashoffset="41.8"/>
<path d="M1443.0,635.6 L1444.0,618.8 L1445.0,601.9 L1446.0,585.2 L1447.0,568.5 L1448.0,551.9 L1449.0,535.4 L1450.0,519.0 L1451.0,502.9 L1452.0,487.0 L1453.0,471.3 L1454.0,455.9 L1455.0,440.9 L1456.0,426.1 L1457.0,411.8 L1458.0,397.8 L1459.0,384.2 L1460.0,371.1 L1461.0,358.5 L1462.0,346.3 L1463.0,334.7 L1464.0,323.6 L1465.0,313.1 L1466.0,303.2 L1467.0,293.8 L1468.0,285.1 L1469.0,277.0 L1470.0,269.6 L1471.0,262.8 L1472.0,256.7 L1473.0,251.3 L1474.0,246.6 L1475.0,242.6 L1476.0,239.4 L1477.0,236.8 L1478.0,235.0 L1479.0,233.9 L1480.0,233.5 L1481.0,233.9 L1482.0,235.2 L1482.5,236.1" stroke="#00ab63" stroke-dasharray="4.9 42.5" stroke-dashoffset="29.3"/>
<path d="M1482.5,236.1 L1483.0,237.3 L1484.0,240.3 L1485.0,244.1 L1486.0,248.8 L1487.0,254.3 L1488.1,260.6 L1489.1,267.7 L1490.1,275.5 L1491.1,284.2 L1492.1,293.6 L1493.1,303.8 L1494.1,314.7 L1495.1,326.2 L1496.1,338.5 L1497.1,351.4 L1498.1,364.9 L1499.1,379.1 L1500.1,393.8 L1501.1,409.1 L1502.2,424.9 L1503.2,441.1 L1504.2,457.9 L1505.2,475.0 L1506.2,492.6 L1507.2,510.5 L1508.2,528.8 L1509.2,547.3 L1510.2,566.1 L1511.2,585.1 L1512.2,604.3 L1513.2,623.7 L1514.2,643.1 L1515.2,662.7 L1515.9,675.4" stroke="#00ab63" stroke-dasharray="4.9 42.5" stroke-dashoffset="10.4"/>
<path d="M1515.9,675.4 L1516.2,682.2 L1517.3,701.8 L1518.3,721.4 L1519.3,740.8 L1520.3,760.2 L1521.3,779.4 L1522.3,798.4 L1523.3,817.2 L1524.3,835.7 L1525.3,854.0 L1526.3,871.9 L1527.3,889.5 L1528.3,906.6 L1529.3,923.4 L1530.3,939.6 L1531.4,955.4 L1532.4,970.7 L1533.4,985.4 L1534.4,999.6 L1535.4,1013.1 L1536.4,1026.0 L1537.4,1038.3 L1538.4,1049.8 L1539.4,1060.7 L1540.4,1070.9 L1541.4,1080.3 L1542.4,1089.0 L1543.4,1096.8 L1544.4,1103.9 L1545.5,1110.2 L1546.5,1115.7 L1547.5,1120.4 L1548.5,1124.2 L1549.5,1127.2 L1549.6,1127.4" stroke="#00ab63" stroke-dasharray="4.9 42.5" stroke-dashoffset="10.4"/>
<path d="M1549.6,1127.4 L1550.5,1129.3 L1551.5,1130.6 L1552.5,1131.0 L1553.5,1130.5 L1554.5,1128.9 L1555.5,1126.4 L1556.5,1122.8 L1557.5,1118.2 L1558.5,1112.5 L1559.5,1105.9 L1560.5,1098.3 L1561.5,1089.8 L1562.5,1080.2 L1563.5,1069.8 L1564.5,1058.4 L1565.5,1046.2 L1566.5,1033.1 L1567.5,1019.1 L1568.5,1004.4 L1569.5,988.8 L1570.5,972.5 L1571.5,955.5 L1572.5,937.8 L1573.5,919.4 L1574.5,900.4 L1575.5,880.8 L1576.5,860.7 L1577.5,840.1 L1578.5,819.1 L1579.5,797.6 L1580.5,775.7 L1581.5,753.5 L1582.5,731.0 L1583.5,708.2 L1584.5,685.3 L1585.5,662.2 L1586.5,639.0 L1587.4,616.9" stroke="#00ab63" stroke-dasharray="4.9 42.5" stroke-dashoffset="41.9"/>
<path d="M1587.4,616.9 L1587.5,615.7 L1588.5,592.3 L1589.5,569.0 L1590.5,545.8 L1591.5,522.7 L1592.5,499.8 L1593.5,477.0 L1594.5,454.5 L1595.5,432.3 L1596.5,410.4 L1597.5,388.9 L1598.5,367.9 L1599.5,347.3 L1600.5,327.2 L1601.5,307.6 L1602.5,288.6 L1603.5,270.2 L1604.5,252.5 L1605.5,235.5 L1606.5,219.2 L1607.5,203.6 L1608.5,188.9 L1609.5,174.9 L1610.5,161.8 L1611.5,149.6 L1612.5,138.2 L1613.5,127.8 L1614.5,118.2 L1615.5,109.7 L1616.5,102.1 L1617.5,95.5" stroke="#00ab63" stroke-dasharray="4.9 42.5" stroke-dashoffset="24.9"/>
</g>
<g font-family="Liberation Serif, Times New Roman, serif" font-size="62" fill="#000">
<text transform="translate(159.5,1259.6) scale(0.97,1.04)" text-anchor="end">-12</text>
<text transform="translate(159.5,1111.6) scale(0.97,1.04)" text-anchor="end">-9</text>
<text transform="translate(159.5,963.6) scale(0.97,1.04)" text-anchor="end">-6</text>
<text transform="translate(159.5,815.6) scale(0.97,1.04)" text-anchor="end">-3</text>
<text transform="translate(159.5,667.6) scale(0.97,1.04)" text-anchor="end">0</text>
<text transform="translate(159.5,519.6) scale(0.97,1.04)" text-anchor="end">3</text>
<text transform="translate(159.5,371.6) scale(0.97,1.04)" text-anchor="end">6</text>
<text transform="translate(159.5,223.6) scale(0.97,1.04)" text-anchor="end">9</text>
<text transform="translate(159.5,75.6) scale(0.97,1.04)" text-anchor="end">12</text>
<text transform="translate(183.0,1313.3) scale(0.99,1.05)" text-anchor="middle">0</text>
<text transform="translate(471.1,1313.3) scale(0.99,1.05)" text-anchor="middle">2</text>
<text transform="translate(759.2,1313.3) scale(0.99,1.05)" text-anchor="middle">4</text>
<text transform="translate(1047.3,1313.3) scale(0.99,1.05)" text-anchor="middle">6</text>
<text transform="translate(1335.4,1313.3) scale(0.99,1.05)" text-anchor="middle">8</text>
<text transform="translate(1624.8,1313.3) scale(0.99,1.05)" text-anchor="middle">10</text>
<text transform="translate(817.4,1379) scale(0.988,1.01)">Time(s)</text>
<text transform="translate(77,628) rotate(-90)" text-anchor="middle">Displacement(m)</text>
</g>
<g stroke-width="8.8" stroke-linecap="round" fill="none">
<path d="M239,105.8 H373.6" stroke="#545454"/>
<path d="M239,182.0 H272.4 M319.2,182.0 H352.2" stroke="#fe4245"/>
<path d="M239,257.4 H279.7 M307.2,257.4 H311.6 M339.4,257.4 H373.6" stroke="#0068e2"/>
<path d="M239,333.2 H243.7 M286.3,333.2 H291.4 M333.6,333.2 H338.7" stroke="#00ab63"/>
</g>
<g font-family="Liberation Serif, Times New Roman, serif" font-size="62" fill="#000">
<text transform="translate(388.2,128.4) scale(0.979,1.02)">Solution by Eq.(47)</text>
<text transform="translate(385.6,203.3) scale(1,1.01)">NMV</text>
<text transform="translate(388.2,278.7) scale(0.979,1.02)">Solution by Eq.(48)</text>
<text transform="translate(385.6,355) scale(1.01,1.03)">NMR</text>
</g>
</svg>
</body></html>
